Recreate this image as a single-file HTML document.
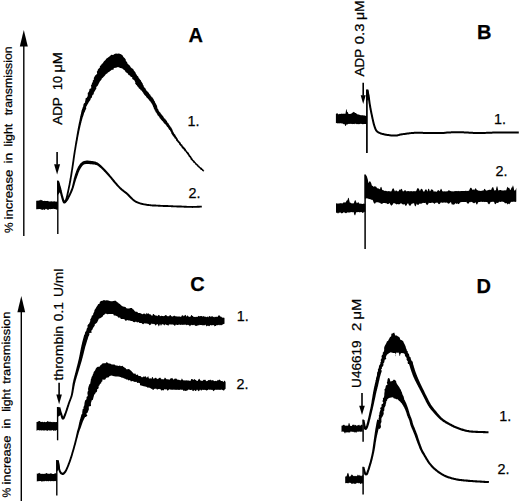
<!DOCTYPE html>
<html><head><meta charset="utf-8"><style>
html,body{margin:0;padding:0;background:#fff;}
svg{display:block;}
text{font-family:"Liberation Sans",sans-serif;fill:#000;stroke:#000;stroke-width:0.25px;}
</style></head><body>
<svg width="520" height="502" viewBox="0 0 520 502">
<rect width="520" height="502" fill="#fff"/>
<line x1="23.8" y1="46.0" x2="23.8" y2="236" stroke="#000" stroke-width="1.4"/>
<polygon points="23.8,30 19.8,46.5 27.8,46.5" fill="#000"/>
<text transform="translate(12.70,233.1) rotate(-90.275) scale(1.042,1)" font-size="11.5">%</text>
<text transform="translate(12.64,219.5) rotate(-90.275) scale(1.147,1)" font-size="11.5">increase</text>
<text transform="translate(12.37,163.6) rotate(-90.275) scale(1.198,1)" font-size="11.5">in</text>
<text transform="translate(12.28,146.4) rotate(-90.275) scale(1.076,1)" font-size="11.5">light</text>
<text transform="translate(12.13,115.3) rotate(-90.275) scale(1.069,1)" font-size="11.5">transmission</text>
<text transform="translate(61.60,124.8) rotate(-90.000) scale(1.120,1)" font-size="12">ADP</text>
<text transform="translate(61.60,89.9) rotate(-90.000) scale(1.036,1)" font-size="12">10</text>
<text transform="translate(61.60,72.6) rotate(-90.000) scale(1.217,1)" font-size="12">μM</text>
<line x1="57.1" y1="152" x2="57.1" y2="164.7" stroke="#000" stroke-width="1.6"/>
<polygon points="54.1,164.2 60.1,164.2 57.1,174.5" fill="#000"/>
<line x1="57.8" y1="180.5" x2="57.8" y2="234" stroke="#000" stroke-width="1.4"/>
<path d="M36.2,200.7 L37.2,200.7 L38.2,200.6 L39,200.7 L39.2,200.6 L39.4,200.6 L39.6,200.2 L40,199.9 L40.2,199.9 L40.2,199.6 L40.5,199.7 L40.6,200.2 L40.7,200.4 L40.9,200.3 L40.9,200.2 L41,200.2 L41.1,200.2 L41.2,200.5 L41.2,200.3 L41.3,200.1 L41.5,200.2 L41.6,199.8 L41.8,200 L41.9,200.3 L42.1,200.3 L42.2,200.3 L42.2,200.2 L42.4,200.6 L42.5,200.9 L42.8,200.5 L43.1,201 L43.2,201 L43.4,201.1 L43.5,201 L43.7,201 L43.8,200.9 L44.1,200.9 L44.2,200.8 L44.4,200.6 L44.7,201.1 L45,200.9 L45.2,200.7 L45.3,200.9 L45.6,200.9 L46.2,200.9 L46.7,200.9 L47,201.1 L47.2,201.1 L47.3,201.1 L47.6,201.1 L47.9,200.8 L48.2,201 L48.2,200.9 L48.5,201.2 L48.8,201.4 L49.1,201.4 L49.2,201.4 L50.2,201.5 L51.2,201.2 L52.2,201.6 L53.2,201.6 L54.2,201.3 L55.2,201.4 L55.3,201.4 L55.6,201.8 L55.9,201.6 L56.2,201.5 L56.2,201.8 L56.5,201.7 L56.8,201.5 L57.1,201.6 L57.2,201.8 L57.4,201.6 L57.8,201.7 L57.8,208.8 L57.4,209.1 L57.2,209.5 L57.1,209.7 L56.8,209.5 L56.5,209.5 L56.2,209.4 L56.2,209.9 L55.9,209.7 L55.6,209.1 L55.3,209 L55.2,208.9 L54.2,209.1 L53.2,208.8 L52.2,208.9 L51.2,209 L50.2,209.2 L49.2,209 L49.1,209.1 L48.8,209.4 L48.5,209.6 L48.2,209.9 L48.2,210 L47.9,210 L47.6,209.5 L47.3,209.5 L47.2,209.7 L47,209.5 L46.7,208.8 L46.2,209.3 L45.6,208.8 L45.3,209.2 L45.2,209.4 L45,209.7 L44.7,210 L44.4,209.7 L44.2,210 L44.1,209.6 L43.8,209.8 L43.7,209.7 L43.5,209.2 L43.4,209.1 L43.2,209.5 L43.1,209.4 L42.8,209.7 L42.5,209.7 L42.4,209.9 L42.2,209.6 L42.2,209.8 L42.1,210 L41.9,210 L41.8,209.6 L41.6,209.7 L41.5,209.7 L41.3,209.6 L41.2,209.3 L41.2,209.6 L41.1,209.2 L41,209 L40.9,209 L40.9,209.4 L40.7,209.2 L40.6,209 L40.5,209.2 L40.2,209.4 L40.2,208.9 L40,209 L39.6,209.1 L39.4,209.1 L39.2,208.9 L39,209.2 L38.2,209.1 L37.2,209.2 L36.2,209.3 Z" fill="#000"/>
<polygon points="57.2,181 58.8,181 61.2,190.5 57.2,196" fill="#000"/>
<path d="M57.3,181.7 L57.4,182.1 L57.5,182.6 L57.7,183.2 L57.8,183.9 L58,184.6 L58.2,185.4 L58.4,186.2 L58.6,187 L58.8,187.8 L59,188.5 L59.1,189.3 L59.3,189.9 L59.5,190.6 L59.6,191.3 L59.8,192 L60,192.7 L60.1,193.4 L60.3,194.1 L60.5,194.8 L60.6,195.5 L60.8,196.1 L61,196.7 L61.1,197.3 L61.4,198.2 L61.6,199 L61.9,199.9 L62.1,200.7 L62.4,201.5 L62.6,202.1 L63,202.7 L63.7,203.4 L65,203.5 L65.9,202.8 L66.4,201.9 L66.8,201 L67.1,199.8 L67.3,199.3 L67.4,198.8 L67.6,198.2 L67.7,197.6 L67.9,197 L68,196.3 L68.2,195.6 L68.3,194.9 L68.5,194.2 L68.6,193.4 L68.8,192.7 L68.9,191.9 L69.1,191.2 L69.2,190.6 L69.3,189.9 L69.5,189.3 L69.6,188.7 L69.7,188 L69.9,187.3 L70,186.6 L70.2,186 L70.3,185.3 L70.5,184.6 L70.6,183.8 L70.7,183.1 L70.9,182.4 L71,181.7 L71.2,180.9 L71.3,180.2 L71.4,179.5 L71.5,178.9 L71.6,178.2 L71.7,177.6 L71.8,176.9 L72,176.3 L72.1,175.6 L72.2,174.9 L72.3,174.2 L72.4,173.5 L72.5,172.9 L72.6,172.2 L72.7,171.5 L72.8,170.8 L72.9,170 L73.1,169.3 L73.2,168.6 L73.3,167.9 L73.4,167.1 L73.5,166.5 L73.6,165.8 L73.7,165.2 L73.8,164.5 L73.9,163.8 L74,163.1 L74.1,162.4 L74.2,161.7 L74.3,161 L74.4,160.2 L74.5,159.5 L74.6,158.8 L74.7,158.1 L74.8,157.4 L74.9,156.7 L75,156 L75.1,155.3 L75.2,154.7 L75.3,154 L75.4,153.4 L75.5,152.7 L75.6,152.1 L75.7,151.4 L75.8,150.6 L75.9,149.9 L76.1,149.3 L76.2,148.6 L76.3,147.9 L76.4,147.3 L76.5,146.7 L76.6,146 L76.7,145.4 L76.8,144.8 L76.9,144.2 L77.1,143.5 L77.2,142.9 L77.3,142.2 L77.4,141.6 L77.5,140.9 L77.7,140.2 L77.8,139.5 L77.9,138.9 L78,138.2 L78.1,137.5 L78.3,136.8 L78.4,136.1 L78.5,135.4 L78.7,134.8 L78.8,134.1 L78.9,133.4 L79.1,132.7 L79.2,132 L79.3,131.3 L79.5,130.6 L79.6,129.9 L79.8,129.2 L79.9,128.5 L80.1,127.9 L80.2,127.2 L80.4,126.5 L80.5,125.8 L80.7,125.2 L80.9,124.5 L81,123.8 L81.2,123.1 L81.4,122.4 L81.5,121.7 L81.7,121.1 L81.9,120.4 L82.1,119.8 L82.2,119.1 L82.4,118.5 L82.6,117.9 L82.7,117.3 L82.9,116.7 L83.1,116.1 L83.3,115.3 L83.5,114.5 L83.8,113.7 L84.1,112.9 L84.3,112.2 L84.6,111.4 L84.9,110.7 L85.1,110 L85.3,109.4 L85.5,108.8 L85.7,108.3 L85.9,107.9 L86,107.5 L83,106.5 L82.9,106.9 L82.7,107.3 L82.6,107.9 L82.4,108.5 L82.2,109.1 L82,109.8 L81.8,110.5 L81.6,111.3 L81.4,112.1 L81.2,112.9 L81,113.8 L80.7,114.6 L80.5,115.5 L80.4,116 L80.3,116.6 L80.1,117.3 L80,117.9 L79.8,118.5 L79.7,119.2 L79.6,119.9 L79.4,120.5 L79.3,121.2 L79.1,121.9 L79,122.6 L78.8,123.3 L78.7,124 L78.5,124.7 L78.4,125.4 L78.3,126.1 L78.1,126.7 L78,127.4 L77.9,128.1 L77.7,128.8 L77.6,129.5 L77.5,130.2 L77.3,130.9 L77.2,131.6 L77.1,132.3 L77,133 L76.8,133.7 L76.7,134.4 L76.6,135.1 L76.5,135.8 L76.4,136.5 L76.2,137.2 L76.1,137.9 L76,138.5 L75.9,139.2 L75.8,139.9 L75.7,140.5 L75.5,141.2 L75.4,141.9 L75.3,142.6 L75.2,143.2 L75.1,143.8 L75,144.5 L74.9,145.1 L74.8,145.7 L74.7,146.4 L74.6,147 L74.5,147.6 L74.4,148.3 L74.3,149 L74.2,149.7 L74,150.4 L73.9,151.1 L73.8,151.9 L73.7,152.5 L73.6,153.1 L73.5,153.7 L73.4,154.4 L73.3,155.1 L73.2,155.7 L73.1,156.4 L73,157.1 L72.9,157.8 L72.8,158.6 L72.7,159.3 L72.6,160 L72.5,160.7 L72.4,161.4 L72.3,162.1 L72.2,162.8 L72.1,163.5 L72,164.2 L71.9,164.9 L71.8,165.6 L71.7,166.2 L71.6,166.9 L71.5,167.6 L71.4,168.3 L71.3,169 L71.2,169.8 L71.1,170.5 L70.9,171.2 L70.8,171.9 L70.7,172.6 L70.6,173.3 L70.5,173.9 L70.4,174.6 L70.3,175.3 L70.2,176 L70.1,176.6 L70,177.3 L69.8,177.9 L69.7,178.6 L69.6,179.2 L69.5,179.8 L69.4,180.6 L69.2,181.3 L69.1,182.1 L69,182.8 L68.8,183.5 L68.7,184.2 L68.6,184.9 L68.4,185.6 L68.3,186.3 L68.1,187 L68,187.6 L67.9,188.3 L67.7,188.9 L67.6,189.6 L67.5,190.2 L67.3,190.8 L67.2,191.6 L67,192.3 L66.8,193.1 L66.7,193.8 L66.5,194.5 L66.4,195.2 L66.2,195.9 L66,196.5 L65.9,197.2 L65.7,197.7 L65.6,198.3 L65.4,198.7 L65.3,199.2 L64.8,200.2 L64.4,200.9 L64.1,201.3 L64.2,201.2 L64.7,201.2 L64.9,201.3 L64.8,201.1 L64.5,200.6 L64.3,200 L64,199.2 L63.8,198.4 L63.5,197.5 L63.3,196.7 L63.1,196.1 L62.9,195.5 L62.8,194.9 L62.6,194.3 L62.4,193.6 L62.3,192.9 L62.1,192.2 L61.9,191.5 L61.8,190.8 L61.6,190.1 L61.4,189.4 L61.3,188.7 L61.1,188 L60.8,187.2 L60.6,186.4 L60.4,185.7 L60.2,184.9 L59.9,184.1 L59.7,183.4 L59.5,182.7 L59.3,182.2 L59.2,181.7 L59.1,181.3 Z" fill="#000"/>
<path d="M80.3,117 L81.1,115.9 L81.1,114.6 L81.2,113.3 L81.8,112.1 L81.7,110.8 L82,109.6 L83.3,108.6 L83.2,107.3 L83.3,106 L83.4,104.7 L83.9,103.5 L85.1,102.6 L85.1,101.2 L85.5,100 L85.5,98.6 L86.7,97.7 L87.4,96.7 L87.8,95.5 L87.8,94.2 L87.7,92.9 L88.7,92 L89.3,90.6 L89.5,89.1 L91.2,88.2 L91.2,86.6 L91,85.3 L91.9,84.3 L91.9,83 L92.9,82.1 L92.7,80.7 L93.9,79.6 L93.8,78 L94.5,76.7 L95.2,75.4 L96.4,74.5 L97.2,73.5 L96.8,71.8 L97.6,70.7 L97.9,69.4 L98.8,68.4 L99.9,67.5 L99.9,65.9 L101.1,65.2 L101.7,64 L102.8,63.2 L103.5,62.1 L104.3,60.9 L105.5,60.1 L106.2,58.8 L107.4,58 L108.7,57 L110.1,56.1 L111.2,54.7 L113.1,54.9 L114.5,54 L116,53.6 L117.3,53.8 L118.5,53.4 L119.8,53.7 L121,54.3 L122.7,55.6 L123.4,57.1 L124.8,58.3 L125.7,59.4 L125.9,60.9 L127,62.1 L127.6,63.7 L128.8,64.7 L129.9,65.8 L130.7,67.2 L131.8,68.2 L133.2,69.1 L133.7,70.3 L134.5,71.3 L135.4,72.3 L135.8,73.6 L136.5,74.6 L137.2,75.7 L138.2,76.6 L138.7,77.9 L139.7,78.9 L140.2,80.2 L141.1,81.3 L141.8,82.5 L142.7,83.5 L142.7,85 L143.5,86.1 L137.5,86.1 L136.3,84.4 L135.8,83.2 L135,82 L134.7,80.7 L133.6,79.8 L132.3,79.1 L132.2,77.2 L130.7,76.7 L129.9,75.5 L128.5,74.9 L127.8,73.6 L126.7,72.7 L125.6,71.9 L124.9,70.6 L123.7,69.8 L122.7,68.8 L121.6,68.2 L120.4,67.9 L119.2,67.6 L118,66.9 L116,67.7 L113.9,68.1 L113.4,69.8 L111.8,69.7 L110.6,70.8 L109.3,71.7 L107.9,72.4 L107.2,73.4 L106,73.9 L105.3,75 L104.5,76 L103.7,76.8 L102.8,77.7 L101.8,78.4 L101.4,79.7 L100.7,80.6 L99.8,81.6 L99.2,82.8 L98.5,83.9 L98,85.2 L97.2,86.2 L96.2,87 L96.4,88.6 L95.7,89.6 L95,90.7 L94.4,91.7 L93.8,92.8 L93.7,94.2 L92.5,95 L92.1,96.2 L91.9,97.6 L90.7,98.5 L90.4,99.9 L89.6,101 L88.7,102.2 L88.1,103.5 L87.3,104.7 L86.7,106 L86,107.1 L86.3,108.6 L85.5,109.7 L85.1,110.9 L84.5,112.1 L83.8,113.2 L83.4,114.5 L83.2,115.8 L83,117.1 Z" fill="#000"/>
<path d="M135.1,83.2 L135.1,83.6 L135.7,83.9 L135.9,84.6 L136.5,85.1 L137.2,85.6 L137.5,86.4 L137.9,87 L138.6,87.4 L138.8,88.2 L139.3,88.7 L140.1,89 L140.4,89.7 L140.7,90.3 L141.5,90.6 L142,91.2 L142.3,91.8 L142.7,92.3 L143.2,92.8 L143.4,93.6 L143.9,94.1 L144.3,94.8 L144.8,95.3 L145.3,95.8 L146,96.2 L146.2,97 L146.6,97.6 L147.3,98 L147.8,98.6 L148.1,99.3 L148.9,99.5 L149.1,100.2 L149.6,100.7 L149.9,101.2 L150.5,101.6 L150.7,102.3 L151.2,102.7 L151.5,103.3 L151.9,103.9 L152.2,104.5 L152.7,105 L152.7,105.7 L153,106.3 L153.2,106.9 L153.7,107.4 L153.7,108.2 L154,108.8 L154.5,109.4 L154.6,110.2 L155.3,110.7 L155.4,111.5 L155.7,112.2 L156.4,112.7 L156.7,113.4 L157.2,113.9 L157.3,114.8 L157.8,115.4 L158.5,115.9 L158.8,116.6 L159.4,117 L159.5,117.8 L160,118.4 L160.6,118.8 L160.9,119.5 L161.5,119.9 L161.8,120.5 L162.3,121 L163,121.4 L163.2,122.1 L163.7,122.7 L164.3,123.2 L164.6,123.9 L165.3,124.2 L165.8,124.7 L166.2,125.2 L166.4,125.8 L166.9,126.4 L167.3,126.9 L167.8,127.2 L168.1,127.8 L168.4,128.3 L168.7,128.9 L169.2,129.7 L169.8,129.9 L170.1,130.4 L170.3,130.9 L170.6,131.5 L170.9,132 L171.2,132.6 L171.3,133.4 L171.8,133.9 L172,134.6 L172.6,135.2 L172.9,135.9 L173.6,136.4 L173.8,137 L174.4,137.4 L174.4,138.2 L175.1,138.6 L175.6,139.1 L176,139.7 L176.1,140.4 L176.6,141 L177.1,141.6 L177.6,142.1 L178,142.7 L178.6,143.1 L179,143.8 L179.2,144.5 L179.7,144.9 L180.2,145.4 L180.5,146.1 L181.2,146.4 L181.5,147.1 L181.7,147.8 L182.3,148.2 L182.7,148.7 L183.1,149.2 L183.7,149.6 L184.1,150.1 L184.3,150.7 L184.7,151.3 L185.4,151.6 L185.8,152.1 L186.1,152.7 L186.7,153.2 L186.9,153.8 L187.5,154.2 L187.6,154.9 L188.2,155.3 L188.4,155.9 L188.7,156.6 L189.3,156.9 L189.7,157.5 L190.1,158.1 L190.5,158.7 L190.6,159.4 L191.3,159.9 L191.8,160.4 L192.2,161 L192.8,161.6 L193.3,162.1 L193.5,162.9 L194.3,163.1 L194.8,163.6 L195.1,164.4 L195.9,164.7 L196.4,165.3 L196.9,166 L197.5,166.5 L198,167.2 L198.6,167.6 L199.3,168 L199.8,168.7 L200.3,169.3 L200.7,169.8 L201.5,169.9 L202,170.3 L202.2,171 L202.8,171.1 L202.9,171.6 L203.2,171.8 L204.3,170.6 L204.1,170.3 L203.6,170.2 L203.4,169.6 L203.1,169.2 L202.5,168.9 L202.1,168.3 L201.6,167.8 L200.8,167.6 L200.3,167 L199.6,166.6 L199.3,165.7 L198.5,165.4 L198.1,164.6 L197.4,164.3 L196.9,163.6 L196.2,163.2 L195.8,162.6 L195.3,162.1 L194.9,161.5 L194.6,161 L194.1,160.4 L193.4,160.1 L192.9,159.5 L192.7,158.8 L192.2,158.3 L191.8,157.8 L191.5,157.1 L191.1,156.6 L190.8,155.9 L190.2,155.5 L189.8,155 L189.6,154.3 L189.1,153.9 L189,153.1 L188.4,152.7 L188.2,152 L187.4,151.7 L187,151.2 L186.6,150.6 L186.1,150.1 L186,149.3 L185.5,148.9 L185.2,148.3 L184.7,147.9 L184.3,147.3 L183.8,146.9 L183.4,146.4 L183,145.9 L182.5,145.4 L182.3,144.7 L181.6,144.3 L181.1,143.9 L180.9,143.2 L180.5,142.6 L180,142.1 L179.5,141.6 L179.1,141 L178.7,140.4 L178.1,139.9 L177.9,139.2 L177.6,138.5 L176.9,138.1 L176.9,137.3 L176.3,136.9 L176.1,136.2 L175.7,135.8 L175.4,135.2 L175.1,134.5 L174.5,134 L174,133.5 L173.9,132.7 L173.4,132.2 L173.1,131.6 L172.7,131 L172.7,130.3 L172.4,129.7 L172.2,129.2 L171.8,128.7 L171.6,128.1 L171.2,127.4 L170.5,126.9 L170.4,126.2 L169.9,125.8 L169.5,125.3 L169.2,124.7 L168.7,124.1 L168.6,123.4 L168.1,122.9 L167.5,122.5 L167.1,121.9 L167,121 L166.3,120.6 L166,119.9 L165.5,119.4 L165.2,118.7 L164.4,118.4 L164,117.8 L163.6,117.2 L163.3,116.6 L162.8,116.1 L162.5,115.5 L161.8,115.1 L161.6,114.5 L161.3,113.9 L160.7,113.4 L160.5,112.7 L159.8,112.3 L159.3,111.7 L159,111.1 L158.5,110.5 L158.4,109.8 L158.2,109.2 L157.6,108.7 L157.4,108.1 L157.3,107.5 L157.1,106.8 L157.1,106.1 L156.8,105.4 L156.4,104.8 L156,104.1 L155.9,103.4 L155.2,102.9 L155.1,102.1 L155,101.4 L154.3,100.9 L154.1,100.2 L153.7,99.5 L153.3,98.8 L152.8,98.2 L152.6,97.5 L151.8,97.2 L151.4,96.5 L150.9,95.9 L150.4,95.3 L150.2,94.6 L149.5,94.3 L149.2,93.7 L148.8,93 L148.4,92.5 L148,91.8 L147.3,91.5 L146.9,90.9 L146.4,90.4 L146.1,89.7 L145.7,89.2 L145.5,88.5 L145,87.9 L144.4,87.4 L144,86.9 L143.7,86.3 L143.5,85.7 L143.2,85 L142.5,84.6 L142.3,84 L141.9,83.4 L141.7,82.6 L141.2,82 L141,81.2 L140.8,80.5 L140.5,80.1 L140.3,79.7 Z" fill="#000"/>
<path d="M64.8,203.1 L65.1,202.9 L65.6,202.6 L66.2,202.2 L66.9,201.6 L67.6,200.8 L68,200.3 L68.3,199.7 L68.7,199 L69.1,198.3 L69.4,197.6 L69.8,196.9 L70.1,196.2 L70.5,195.4 L70.8,194.8 L71.1,194.2 L71.4,193.6 L71.7,192.9 L72,192.2 L72.3,191.6 L72.6,190.9 L72.8,190.2 L73.1,189.5 L73.3,188.8 L73.6,188.2 L73.8,187.5 L74,186.8 L74.2,186.1 L74.4,185.4 L74.6,184.7 L74.8,184.1 L74.9,183.4 L75.1,182.8 L75.3,182.3 L75.5,181.6 L75.7,181 L75.8,180.4 L76,179.9 L76.2,179.3 L76.4,178.7 L76.7,177.9 L76.9,177.4 L77.1,176.8 L77.4,176.1 L77.6,175.4 L77.9,174.7 L78.1,174 L78.4,173.3 L78.6,172.6 L78.9,171.9 L79.2,171.3 L79.4,170.7 L79.7,170.1 L80.1,169.4 L80.4,168.8 L80.8,168.2 L81.2,167.6 L81.6,167 L81.9,166.5 L82.3,166.1 L82.7,165.6 L83,165.3 L83.6,164.8 L84,164.5 L84.5,164.3 L85.1,164.2 L85.7,164 L86.2,164 L86.7,163.9 L87.3,164 L87.9,164 L88.6,164.1 L89.3,164.1 L90,164.2 L90.7,164.2 L91.4,164.3 L92.1,164.3 L92.7,164.4 L93.4,164.4 L94,164.5 L94.6,164.6 L95.1,164.7 L95.8,164.9 L96.4,165.1 L96.9,165.3 L97.5,165.6 L98.1,166 L98.8,166.5 L99.3,166.9 L99.7,167.2 L100.2,167.7 L100.7,168.1 L101.2,168.6 L101.7,169.1 L102.2,169.6 L102.7,170.1 L103.2,170.6 L103.7,171.1 L104.2,171.7 L104.7,172.1 L105.1,172.6 L105.6,173.1 L106,173.6 L106.5,174 L106.9,174.5 L107.4,175 L107.8,175.5 L108.3,176 L108.7,176.6 L109.2,177.1 L109.6,177.6 L110.1,178.1 L110.5,178.6 L111,179.2 L111.4,179.7 L111.9,180.3 L112.3,180.8 L112.8,181.4 L113.2,181.9 L113.7,182.5 L114.1,183 L114.6,183.5 L115,184.1 L115.5,184.6 L116,185.2 L116.5,185.7 L117,186.2 L117.5,186.8 L118,187.3 L118.5,187.8 L118.9,188.3 L119.4,188.8 L119.9,189.3 L120.4,189.7 L121,190.2 L121.6,190.7 L122.1,191.2 L122.7,191.6 L123.3,192.1 L123.8,192.5 L124.4,192.9 L124.9,193.3 L125.4,193.7 L125.8,194.1 L126.4,194.5 L126.9,195 L127.4,195.5 L127.9,196 L128.3,196.5 L128.8,197 L129.3,197.4 L129.8,197.9 L130.3,198.4 L130.8,198.9 L131.2,199.3 L131.7,199.8 L132.2,200.3 L132.8,200.8 L133.4,201.3 L134.1,201.7 L134.6,202.1 L135.2,202.4 L135.8,202.7 L136.4,203 L137,203.3 L137.6,203.5 L138.3,203.8 L139,204.1 L139.8,204.3 L140.5,204.5 L141.1,204.7 L141.7,204.8 L142.3,205 L143,205.1 L143.6,205.2 L144.3,205.3 L145,205.5 L145.6,205.6 L146.3,205.7 L147,205.8 L147.7,205.9 L148.5,206 L149.2,206.1 L149.9,206.1 L150.5,206.2 L151.2,206.3 L151.8,206.3 L152.4,206.4 L153,206.4 L153.7,206.4 L154.3,206.5 L155,206.5 L155.6,206.5 L156.3,206.6 L157,206.6 L157.7,206.6 L158.4,206.7 L159.2,206.7 L160,206.7 L160.8,206.7 L161.3,206.8 L161.9,206.8 L162.5,206.8 L163.2,206.9 L163.8,206.9 L164.5,206.9 L165.1,206.9 L165.8,207 L166.5,207 L167.1,207 L167.8,207 L168.5,207.1 L169.2,207.1 L169.9,207.1 L170.6,207.1 L171.3,207.2 L172,207.2 L172.7,207.2 L173.4,207.3 L174.1,207.3 L174.8,207.3 L175.5,207.3 L176.2,207.3 L176.9,207.4 L177.6,207.4 L178.3,207.4 L179,207.5 L179.7,207.5 L180.5,207.5 L181.2,207.5 L181.9,207.6 L182.7,207.6 L183.4,207.6 L184.1,207.7 L184.9,207.7 L185.6,207.7 L186.3,207.7 L187,207.8 L187.7,207.8 L188.3,207.8 L189,207.8 L189.6,207.8 L190.3,207.8 L190.9,207.8 L191.5,207.8 L192.4,207.9 L193.2,207.8 L194.1,207.8 L194.9,207.8 L195.7,207.8 L196.5,207.8 L197.3,207.7 L198,207.7 L198.7,207.7 L199.4,207.7 L200,207.6 L200.5,207.6 L201,207.6 L201.5,207.6 L201.8,207.5 L201.8,205.7 L201.4,205.7 L200.9,205.7 L200.4,205.7 L199.9,205.7 L199.3,205.8 L198.6,205.8 L197.9,205.8 L197.2,205.8 L196.4,205.9 L195.7,205.9 L194.9,205.9 L194,205.9 L193.2,205.9 L192.4,206 L191.5,206 L190.9,205.9 L190.3,205.9 L189.7,205.9 L189,205.9 L188.4,205.9 L187.7,205.9 L187,205.9 L186.3,205.8 L185.6,205.8 L184.9,205.8 L184.2,205.8 L183.5,205.7 L182.8,205.7 L182,205.7 L181.3,205.6 L180.6,205.6 L179.8,205.6 L179.1,205.6 L178.4,205.5 L177.6,205.5 L176.9,205.5 L176.2,205.5 L175.6,205.4 L174.9,205.4 L174.2,205.4 L173.5,205.4 L172.8,205.3 L172.1,205.3 L171.4,205.3 L170.7,205.2 L170,205.2 L169.3,205.2 L168.6,205.2 L167.9,205.1 L167.2,205.1 L166.5,205.1 L165.9,205.1 L165.2,205 L164.5,205 L163.9,205 L163.2,205 L162.6,204.9 L162,204.9 L161.4,204.9 L160.8,204.9 L160,204.8 L159.3,204.8 L158.5,204.8 L157.8,204.7 L157.1,204.7 L156.4,204.7 L155.7,204.6 L155.1,204.6 L154.4,204.6 L153.8,204.5 L153.2,204.5 L152.5,204.5 L151.9,204.4 L151.3,204.4 L150.7,204.3 L150.1,204.3 L149.4,204.2 L148.7,204.1 L148,204 L147.3,203.9 L146.6,203.8 L145.9,203.7 L145.3,203.6 L144.6,203.5 L144,203.4 L143.4,203.2 L142.7,203.1 L142.2,203 L141.6,202.8 L141.1,202.7 L140.3,202.5 L139.6,202.2 L139,202 L138.4,201.8 L137.8,201.5 L137.2,201.2 L136.7,200.9 L136.1,200.7 L135.6,200.4 L135.1,200.1 L134.6,199.7 L134.1,199.3 L133.6,198.9 L133.1,198.4 L132.7,197.9 L132.2,197.5 L131.7,197 L131.2,196.5 L130.7,196 L130.2,195.5 L129.8,195.1 L129.3,194.6 L128.8,194.1 L128.3,193.6 L127.7,193.1 L127.2,192.5 L126.7,192.1 L126.1,191.7 L125.6,191.3 L125,190.9 L124.5,190.5 L123.9,190 L123.4,189.6 L122.8,189.2 L122.3,188.7 L121.8,188.3 L121.3,187.8 L120.8,187.4 L120.4,186.9 L119.9,186.4 L119.4,185.9 L118.9,185.4 L118.5,184.9 L118,184.4 L117.5,183.8 L117,183.3 L116.6,182.7 L116.1,182.2 L115.7,181.7 L115.2,181.2 L114.8,180.6 L114.3,180.1 L113.9,179.5 L113.5,179 L113,178.4 L112.6,177.9 L112.1,177.3 L111.6,176.8 L111.2,176.2 L110.7,175.7 L110.3,175.2 L109.8,174.6 L109.4,174.1 L108.9,173.6 L108.5,173.1 L108,172.6 L107.6,172.1 L107.1,171.6 L106.7,171.1 L106.2,170.6 L105.8,170.1 L105.3,169.6 L104.8,169.1 L104.3,168.5 L103.8,168 L103.3,167.5 L102.8,167 L102.3,166.5 L101.8,166 L101.3,165.5 L100.8,165.1 L100.4,164.7 L99.6,164 L98.9,163.5 L98.3,163 L97.6,162.6 L96.9,162.2 L96.1,161.9 L95.4,161.6 L94.6,161.4 L93.9,161.3 L93.2,161.2 L92.4,161 L91.7,161 L91,160.9 L90.4,160.8 L89.6,160.7 L88.9,160.7 L88.1,160.6 L87.4,160.6 L86.6,160.6 L85.8,160.7 L85.1,160.8 L84.2,161 L83.3,161.3 L82.4,161.8 L81.6,162.4 L80.8,163.1 L80.4,163.6 L79.9,164.1 L79.5,164.7 L79.1,165.3 L78.7,166 L78.2,166.6 L77.8,167.4 L77.5,168.1 L77.1,168.9 L76.8,169.5 L76.5,170.2 L76.3,170.9 L76,171.6 L75.8,172.4 L75.5,173.1 L75.3,173.8 L75,174.6 L74.8,175.3 L74.6,175.9 L74.4,176.5 L74.3,177.1 L74,177.9 L73.8,178.6 L73.7,179.2 L73.6,179.8 L73.4,180.4 L73.3,181 L73.1,181.7 L73,182.3 L72.8,182.9 L72.7,183.5 L72.5,184.2 L72.4,184.9 L72.2,185.5 L72,186.2 L71.9,186.9 L71.7,187.5 L71.5,188.2 L71.2,188.8 L71,189.5 L70.7,190.1 L70.4,190.8 L70.2,191.4 L69.9,192.1 L69.6,192.7 L69.3,193.4 L69,194 L68.7,194.6 L68.3,195.3 L68,196 L67.6,196.7 L67.3,197.4 L67,198.1 L66.6,198.6 L66.3,199.2 L66,199.6 L65.5,200.1 L65,200.6 L64.5,200.9 L64,201.2 L63.6,201.5 Z" fill="#000"/>
<text x="188.5" y="42.3" font-size="20" font-weight="bold">A</text>
<text x="187.6" y="126.2" font-size="14.4">1.</text>
<text x="188.5" y="198.4" font-size="14.4">2.</text>
<text transform="translate(364.10,76.5) rotate(-90.000) scale(1.124,1)" font-size="12">ADP</text>
<text transform="translate(364.10,44.2) rotate(-90.000) scale(1.237,1)" font-size="12">0.3</text>
<text transform="translate(364.10,20.1) rotate(-90.000) scale(1.171,1)" font-size="12">μM</text>
<line x1="363.2" y1="82.7" x2="363.2" y2="95.8" stroke="#000" stroke-width="1.6"/>
<polygon points="360.7,95.3 365.7,95.3 363.2,104" fill="#000"/>
<line x1="366.9" y1="89.7" x2="366.9" y2="153" stroke="#000" stroke-width="1.7"/>
<path d="M335.9,114 L336.2,113.9 L336.5,113.6 L336.8,113.2 L336.9,113.1 L337.1,113.3 L337.4,113.6 L337.7,113.6 L337.9,113.5 L338,114 L338.3,114.2 L338.9,114.3 L339.9,113.8 L340.9,114.1 L341.9,113.6 L342.8,113.9 L342.9,113.7 L343.1,113.6 L343.4,114 L343.7,113.6 L343.9,113.8 L344,114 L344.3,113.6 L344.5,113.6 L344.6,114 L344.8,113.8 L344.9,113.9 L344.9,113.5 L345.1,113.7 L345.4,113.6 L345.5,113.9 L345.7,112.3 L345.8,112.1 L345.9,110.8 L346,110.7 L346,110.2 L346.1,109.8 L346.3,109.5 L346.3,109.1 L346.4,109 L346.6,109.6 L346.6,109.5 L346.7,109.7 L346.9,111.3 L346.9,110.9 L347,111.5 L347.2,111.9 L347.3,112.1 L347.5,112.3 L347.6,112 L347.8,112.3 L347.9,112.3 L348.1,112.9 L348.2,113.3 L348.4,113.6 L348.5,113.9 L348.9,114 L349.9,114 L350.9,113.7 L351.9,113.3 L352.1,113.1 L352.4,113.1 L352.7,112.5 L352.9,112.1 L353,112.2 L353.3,112.3 L353.6,111.7 L353.9,112.1 L354.2,112.1 L354.5,112.4 L354.8,112.4 L354.9,112.9 L355.9,113 L356.9,114 L357.9,114.5 L358.9,114.5 L359.9,115.1 L360.9,115.2 L361.9,115.2 L362.9,115.3 L363.9,115.4 L364.9,115.5 L365.9,115.9 L366.9,115.8 L367,116.1 L367,124.2 L366.9,124 L365.9,123.9 L364.9,124 L363.9,124.1 L362.9,124.2 L361.9,124.1 L360.9,123.7 L359.9,124.1 L358.9,124.3 L357.9,124.1 L356.9,124.2 L355.9,123.7 L354.9,123.8 L354.8,123.8 L354.5,123.9 L354.2,124.2 L353.9,124 L353.6,123.9 L353.3,124 L353,123.8 L352.9,124.2 L352.7,123.7 L352.4,124.3 L352.1,123.9 L351.9,123.9 L350.9,123.7 L349.9,124.1 L348.9,123.8 L348.5,124 L348.4,123.9 L348.2,124.1 L348.1,123.9 L347.9,124.4 L347.8,124.6 L347.6,124.3 L347.5,124.3 L347.3,124.6 L347.2,124.2 L347,124.4 L346.9,124.7 L346.9,124.3 L346.7,124.4 L346.6,124.5 L346.6,124.3 L346.4,124.5 L346.3,125.1 L346.3,124.7 L346.1,125.2 L346,125.6 L346,125.6 L345.9,125.5 L345.8,126 L345.7,126 L345.5,125.9 L345.4,126 L345.1,125.6 L344.9,125.2 L344.9,124.7 L344.8,124.6 L344.6,124 L344.5,124.2 L344.3,124.3 L344,124.2 L343.9,124.2 L343.7,124.2 L343.4,124 L343.1,123.8 L342.9,123.8 L342.8,123.4 L341.9,123.6 L340.9,123.3 L339.9,123.2 L338.9,123.4 L338.3,123.2 L338,123.1 L337.9,123.4 L337.7,123.4 L337.4,123.2 L337.1,123.2 L336.9,123 L336.8,123.1 L336.5,122.9 L336.2,123.3 L335.9,123.3 Z" fill="#000"/>
<polygon points="366.2,89.6 368.2,89.8 369.2,95 368.9,100 366.2,100.5" fill="#000"/>
<path d="M366.5,90 L366.6,90.4 L366.7,90.9 L366.8,91.4 L366.9,92.1 L367,92.8 L367.2,93.5 L367.3,94.4 L367.5,95.2 L367.6,96.2 L367.7,96.7 L367.8,97.3 L367.9,97.9 L368,98.5 L368.1,99.2 L368.1,99.9 L368.2,100.6 L368.3,101.3 L368.4,102 L368.5,102.7 L368.6,103.5 L368.8,104.2 L368.9,104.9 L369,105.7 L369.1,106.4 L369.2,107.1 L369.3,107.8 L369.5,108.5 L369.6,109.2 L369.7,109.9 L369.9,110.6 L370,111.3 L370.1,112 L370.3,112.7 L370.4,113.4 L370.6,114.1 L370.7,114.8 L370.9,115.5 L371,116.2 L371.1,116.8 L371.3,117.5 L371.4,118.1 L371.6,118.9 L371.8,119.6 L371.9,120.4 L372.1,121.1 L372.2,121.8 L372.4,122.5 L372.6,123.2 L372.7,123.9 L372.9,124.5 L373.1,125.2 L373.3,125.8 L373.5,126.4 L373.7,126.9 L373.9,127.7 L374.2,128.5 L374.5,129.2 L374.8,129.9 L375.1,130.6 L375.5,131.2 L376.1,131.8 L376.7,132.4 L377.2,132.8 L377.8,133.2 L378.4,133.5 L379,133.8 L379.7,134.1 L380.4,134.4 L381.2,134.6 L382,134.9 L382.8,135.1 L383.7,135.3 L384.3,135.4 L384.9,135.5 L385.6,135.7 L386.3,135.8 L387,135.9 L387.7,136 L388.5,136.1 L389.2,136.2 L390,136.3 L390.8,136.4 L391.5,136.4 L392.2,136.5 L393,136.5 L393.6,136.6 L394.3,136.6 L394.9,136.6 L395.8,136.6 L396.6,136.5 L397.3,136.4 L398,136.2 L398.6,136.1 L399.2,135.9 L399.8,135.8 L400.5,135.6 L401.2,135.4 L402.2,135.3 L402.7,135.2 L403.3,135.1 L403.9,135 L404.5,135 L405.1,134.9 L405.8,134.8 L406.5,134.7 L407.2,134.6 L407.9,134.5 L408.6,134.4 L409.3,134.3 L410.1,134.2 L410.8,134.1 L411.5,134.1 L412.3,134 L413,133.9 L413.7,133.9 L414.4,133.8 L415,133.8 L415.7,133.8 L416.4,133.7 L417.1,133.7 L417.8,133.7 L418.4,133.7 L419.1,133.7 L419.8,133.8 L420.5,133.8 L421.2,133.8 L421.9,133.8 L422.6,133.8 L423.2,133.9 L423.9,133.9 L424.6,133.9 L425.3,133.9 L426,134 L426.6,134 L427.3,134 L428,134 L428.7,134 L429.4,134 L430.1,134 L430.8,134 L431.4,134.1 L432.1,134.1 L432.8,134.1 L433.5,134.1 L434.2,134.1 L434.8,134.1 L435.5,134.1 L436.2,134.1 L436.8,134.1 L437.5,134.1 L438.1,134.1 L438.8,134.1 L439.4,134.1 L440,134.1 L440.8,134.1 L441.5,134 L442.2,134 L442.9,134 L443.6,133.9 L444.2,133.9 L444.9,133.8 L445.5,133.7 L446.2,133.7 L446.8,133.6 L447.5,133.6 L448.1,133.5 L448.7,133.5 L449.4,133.4 L450,133.4 L450.7,133.4 L451.3,133.3 L451.9,133.3 L452.5,133.3 L453.1,133.3 L453.7,133.2 L454.3,133.2 L454.9,133.2 L455.5,133.2 L456.1,133.2 L456.8,133.2 L457.5,133.2 L458.3,133.2 L459.1,133.2 L460,133.2 L460.5,133.2 L461.1,133.2 L461.6,133.3 L462.2,133.3 L462.8,133.3 L463.5,133.3 L464.1,133.4 L464.8,133.4 L465.4,133.4 L466.1,133.5 L466.8,133.5 L467.5,133.6 L468.2,133.6 L468.9,133.7 L469.7,133.7 L470.4,133.7 L471.1,133.8 L471.8,133.8 L472.5,133.8 L473.3,133.9 L474,133.9 L474.7,133.9 L475.4,134 L476.1,134 L476.8,134 L477.5,134 L478.2,134 L478.8,134 L479.5,134 L480.1,134 L480.8,134 L481.4,134 L482.1,134 L482.7,134 L483.3,133.9 L484,133.9 L484.6,133.9 L485.3,133.9 L485.9,133.8 L486.5,133.8 L487.2,133.8 L487.8,133.8 L488.5,133.8 L489.2,133.7 L489.9,133.7 L490.6,133.7 L491.3,133.7 L492,133.7 L492.7,133.6 L493.5,133.6 L494.2,133.6 L495,133.6 L495.6,133.6 L496.2,133.6 L496.9,133.6 L497.6,133.6 L498.3,133.6 L499,133.6 L499.7,133.6 L500.5,133.6 L501.3,133.6 L502,133.6 L502.8,133.6 L503.6,133.6 L504.4,133.6 L505.2,133.6 L506,133.6 L506.8,133.6 L507.6,133.6 L508.4,133.6 L509.2,133.6 L509.9,133.6 L510.7,133.6 L511.4,133.6 L512.2,133.6 L512.9,133.6 L513.5,133.6 L514.2,133.6 L514.8,133.6 L515.5,133.6 L516,133.6 L516.6,133.6 L517.1,133.6 L517.6,133.6 L518,133.6 L518.4,133.6 L518.8,133.6 L518.8,131.6 L518.4,131.6 L518,131.6 L517.6,131.6 L517.1,131.6 L516.6,131.6 L516,131.6 L515.5,131.6 L514.9,131.6 L514.2,131.6 L513.6,131.6 L512.9,131.6 L512.2,131.6 L511.4,131.6 L510.7,131.6 L509.9,131.6 L509.2,131.6 L508.4,131.6 L507.6,131.6 L506.8,131.6 L506,131.6 L505.2,131.6 L504.4,131.6 L503.6,131.6 L502.8,131.6 L502,131.6 L501.3,131.6 L500.5,131.6 L499.7,131.6 L499,131.6 L498.3,131.6 L497.6,131.6 L496.9,131.6 L496.2,131.6 L495.6,131.6 L495,131.6 L494.2,131.6 L493.4,131.6 L492.7,131.6 L491.9,131.7 L491.2,131.7 L490.5,131.7 L489.8,131.7 L489.1,131.7 L488.4,131.8 L487.8,131.8 L487.1,131.8 L486.5,131.8 L485.8,131.9 L485.2,131.9 L484.5,131.9 L483.9,131.9 L483.3,131.9 L482.7,132 L482,132 L481.4,132 L480.8,132 L480.1,132 L479.5,132 L478.8,132 L478.2,132 L477.5,132 L476.8,132 L476.2,132 L475.5,132 L474.8,131.9 L474.1,131.9 L473.4,131.9 L472.6,131.8 L471.9,131.8 L471.2,131.8 L470.5,131.7 L469.8,131.7 L469.1,131.7 L468.3,131.6 L467.6,131.6 L466.9,131.5 L466.2,131.5 L465.6,131.5 L464.9,131.4 L464.2,131.4 L463.6,131.3 L462.9,131.3 L462.3,131.3 L461.7,131.3 L461.1,131.2 L460.6,131.2 L460,131.2 L459.1,131.2 L458.3,131.2 L457.5,131.2 L456.8,131.2 L456.1,131.2 L455.4,131.2 L454.8,131.2 L454.2,131.2 L453.6,131.2 L453,131.3 L452.4,131.3 L451.8,131.3 L451.2,131.3 L450.6,131.4 L450,131.4 L449.3,131.4 L448.6,131.5 L448,131.5 L447.3,131.6 L446.7,131.6 L446,131.7 L445.4,131.7 L444.7,131.8 L444.1,131.9 L443.4,131.9 L442.7,132 L442.1,132 L441.4,132 L440.7,132.1 L440,132.1 L439.4,132.1 L438.7,132.1 L438.1,132.1 L437.5,132.1 L436.8,132.1 L436.2,132.1 L435.5,132.1 L434.9,132.1 L434.2,132.1 L433.5,132.1 L432.8,132.1 L432.2,132.1 L431.5,132.1 L430.8,132 L430.1,132 L429.4,132 L428.7,132 L428,132 L427.4,132 L426.7,132 L426,132 L425.4,131.9 L424.7,131.9 L424,131.9 L423.3,131.9 L422.6,131.8 L421.9,131.8 L421.2,131.8 L420.6,131.8 L419.9,131.8 L419.2,131.7 L418.5,131.7 L417.8,131.7 L417.1,131.7 L416.3,131.8 L415.6,131.8 L415,131.8 L414.2,131.8 L413.5,131.9 L412.8,131.9 L412.1,132 L411.3,132.1 L410.6,132.2 L409.8,132.2 L409.1,132.3 L408.4,132.4 L407.6,132.5 L406.9,132.6 L406.2,132.7 L405.5,132.8 L404.9,132.9 L404.2,133 L403.6,133.1 L403,133.2 L402.4,133.2 L401.8,133.3 L400.9,133.5 L400,133.6 L399.3,133.8 L398.7,134 L398.1,134.2 L397.5,134.3 L396.9,134.4 L396.4,134.5 L395.7,134.6 L394.9,134.6 L394.3,134.6 L393.7,134.6 L393.1,134.5 L392.4,134.5 L391.7,134.4 L391,134.4 L390.2,134.3 L389.5,134.2 L388.7,134.1 L388,134 L387.3,133.9 L386.6,133.8 L385.9,133.7 L385.3,133.6 L384.7,133.4 L384.1,133.3 L383.3,133.1 L382.5,132.9 L381.8,132.7 L381.1,132.5 L380.4,132.3 L379.9,132 L379.3,131.7 L378.8,131.5 L378.4,131.2 L377.9,130.8 L377.5,130.4 L377.1,130 L376.8,129.5 L376.6,129 L376.3,128.5 L376.1,127.8 L375.8,127.1 L375.5,126.3 L375.4,125.7 L375.2,125.2 L375,124.6 L374.9,124 L374.7,123.4 L374.5,122.7 L374.4,122.1 L374.2,121.4 L374,120.6 L373.9,119.9 L373.7,119.2 L373.5,118.4 L373.4,117.7 L373.2,117.1 L373.1,116.4 L373,115.8 L372.8,115.1 L372.7,114.4 L372.5,113.7 L372.4,113 L372.2,112.3 L372.1,111.6 L372,110.9 L371.8,110.2 L371.7,109.5 L371.6,108.8 L371.4,108.1 L371.3,107.4 L371.2,106.7 L371.1,106 L371,105.3 L370.8,104.6 L370.7,103.9 L370.6,103.2 L370.5,102.5 L370.4,101.7 L370.3,101 L370.2,100.3 L370.1,99.6 L370,98.9 L370,98.3 L369.9,97.6 L369.8,97 L369.7,96.4 L369.6,95.8 L369.4,94.9 L369.2,94 L369.1,93.2 L368.9,92.4 L368.8,91.7 L368.6,91 L368.5,90.5 L368.4,90 L368.3,89.6 Z" fill="#000"/>
<line x1="365.1" y1="174.6" x2="365.1" y2="249" stroke="#000" stroke-width="1.5"/>
<path d="M336,203.2 L337,203.5 L337,203.2 L337.3,203.6 L337.6,203.4 L337.9,203.7 L338,203.7 L338.2,203.5 L338.5,203.7 L338.8,203.3 L339,203.2 L340,203.5 L340.6,203.1 L340.9,203.2 L341,203.3 L341.2,203.5 L341.5,203.2 L341.8,203.1 L342,203.6 L342.1,203.3 L342.4,203.6 L342.6,203.6 L342.7,203.2 L342.9,203 L343,202.9 L343.2,202.7 L343.3,202.6 L343.5,202.4 L343.8,202.2 L344,202.4 L344.1,202.1 L344.4,202.2 L344.5,202.4 L344.7,202.3 L344.7,202.4 L344.8,202.9 L345,202.8 L345,202.9 L345.1,202.5 L345.2,202.6 L345.3,202.7 L345.3,202.3 L345.4,202.6 L345.5,202.5 L345.6,202.1 L345.7,202.4 L345.8,202.1 L345.9,202.1 L346,201.7 L346,201.9 L346.1,201.7 L346.2,201.1 L346.3,200.9 L346.4,201.1 L346.5,201.2 L346.6,200.6 L346.7,200.6 L346.8,200.6 L346.9,200.3 L346.9,200.4 L347,200.3 L347.2,200.3 L347.2,200.4 L347.3,200.2 L347.5,200.3 L347.6,200.1 L347.8,198.7 L347.9,198.7 L348,198.5 L348.1,198 L348.2,197.7 L348.4,198 L348.5,197.7 L348.6,197.7 L348.7,198.1 L348.8,198.5 L348.9,198.3 L349,198.9 L349.1,199.4 L349.2,199.9 L349.3,200.4 L349.5,201.5 L349.6,201.8 L349.8,202.6 L350,202.8 L350.1,202.9 L350.4,202.7 L350.7,202.6 L351,202.7 L351,203 L351.3,203 L351.6,203.5 L352,203.6 L353,203.3 L353.6,203.3 L353.7,203.7 L353.9,203.1 L354,202.9 L354.2,202.1 L354.3,201.7 L354.5,201.3 L354.6,201.3 L354.8,200.6 L354.9,200.5 L355,200.4 L355.1,200.3 L355.2,200.3 L355.4,200.6 L355.5,200.2 L355.7,200.3 L355.8,201 L356,201.4 L356.1,201.7 L356.4,202.2 L356.6,203.1 L356.7,203.3 L356.9,203.1 L357,203.2 L357.2,203.1 L357.5,202.7 L357.8,202.4 L358,202.2 L358.1,202.3 L358.4,202.3 L358.7,202.5 L359,203.2 L359.3,203.4 L360,203.8 L361,203.4 L361.9,203.9 L362,203.8 L362.2,203.9 L362.5,203.9 L362.8,204 L363,203.8 L363.1,203.4 L363.4,203.9 L363.7,203.6 L364,203.6 L365,203.9 L365.2,203.8 L365.2,212.2 L365,212.1 L364,211.8 L363.7,211.9 L363.4,212.7 L363.1,213 L363,213 L362.8,213 L362.5,213 L362.2,212.6 L362,212.3 L361.9,211.9 L361,212.3 L360,212.1 L359.3,212.4 L359,212.2 L358.7,211.9 L358.4,212.1 L358.1,212.1 L358,212.1 L357.8,212.1 L357.5,212.1 L357.2,212.4 L357,212.3 L356.9,212.1 L356.7,212 L356.6,212.1 L356.4,212.4 L356.1,212.5 L356,212.7 L355.8,213.2 L355.7,214 L355.5,214.5 L355.4,214.4 L355.2,215.2 L355.1,215.2 L355,215.4 L354.9,215 L354.8,215.4 L354.6,215.1 L354.5,215.1 L354.3,214.6 L354.2,214.2 L354,213.7 L353.9,212.9 L353.7,212.7 L353.6,212 L353,212.1 L352,212.6 L351.6,212.1 L351.3,212.1 L351,212.1 L351,212.5 L350.7,212.2 L350.4,212.1 L350.1,212.5 L350,212.2 L349.8,212.4 L349.6,212.5 L349.5,212.5 L349.3,212.6 L349.2,212.6 L349.1,212.5 L349,212.6 L348.9,212.2 L348.8,212.4 L348.7,212.3 L348.6,212.6 L348.5,212.7 L348.4,212.3 L348.2,212.7 L348.1,212.7 L348,212.4 L347.9,212.4 L347.8,212.2 L347.6,212.6 L347.5,212.5 L347.3,212.3 L347.2,212.4 L347.2,212.6 L347,212.6 L346.9,212.8 L346.9,212.7 L346.8,212.7 L346.7,212.8 L346.6,213 L346.5,213.2 L346.4,213 L346.3,213.3 L346.2,213.2 L346.1,213.1 L346,213 L346,213 L345.9,213.2 L345.8,213.4 L345.7,213.2 L345.6,213 L345.5,213.1 L345.4,212.9 L345.3,213 L345.3,213.1 L345.2,213.1 L345.1,212.8 L345,212.7 L345,212.7 L344.8,212.7 L344.7,212.4 L344.7,212.8 L344.5,212.8 L344.4,212.2 L344.1,212.3 L344,212.3 L343.8,212.2 L343.5,212.2 L343.3,212.7 L343.2,212.6 L343,212.7 L342.9,212.9 L342.7,212.9 L342.6,213 L342.4,212.9 L342.1,213.5 L342,213.4 L341.8,213 L341.5,213.4 L341.2,213.2 L341,213.1 L340.9,212.9 L340.6,212.3 L340,212.7 L339,212.6 L338.8,212.7 L338.5,213.1 L338.2,213.6 L338,213.5 L337.9,213.7 L337.6,213.1 L337.3,212.8 L337,212.7 L337,212.9 L336,212.5 Z" fill="#000"/>
<path d="M364.8,174.5 L364.9,174.7 L365.2,175 L365.5,174.8 L365.8,175.1 L365.8,174.9 L366.1,175.2 L366.8,176.2 L367.8,179.6 L368.2,181.8 L368.5,183.3 L368.8,182.4 L368.8,182.7 L369.1,181.8 L369.4,181.9 L369.7,181.1 L369.8,181.1 L370,181.1 L370.3,181.7 L370.6,182 L370.8,182.6 L370.9,182.5 L371.2,183.2 L371.5,184.2 L371.8,185.2 L371.8,185.6 L372.8,185.9 L372.9,186 L373.1,186.6 L373.3,186.3 L373.4,186.9 L373.6,186.5 L373.8,186.7 L373.8,186.7 L373.9,186.8 L374.1,186.3 L374.2,186.7 L374.4,186.3 L374.5,186.6 L374.6,186.1 L374.8,186.6 L374.8,186.2 L374.9,186.2 L375.1,186.1 L375.2,186.3 L375.4,186.4 L375.6,186.8 L375.7,186.7 L375.8,186.6 L375.9,187 L376,186.6 L376.3,186.9 L376.6,187.6 L376.8,187.7 L376.9,187.7 L377.8,188.4 L378.8,188.4 L379.8,189.3 L379.9,189.3 L380,189.3 L380.1,188.9 L380.3,188.1 L380.4,187.7 L380.6,187.3 L380.8,187.1 L380.8,187.1 L380.9,187 L381.1,186.8 L381.2,187.1 L381.4,187.3 L381.5,187.6 L381.6,187.6 L381.8,188.1 L381.8,188.3 L381.9,188.8 L382.1,189.5 L382.2,189.8 L382.6,190.2 L382.8,190.1 L382.9,190.1 L383.8,190.6 L384.8,191.1 L385.8,190.7 L386.1,190.9 L386.4,191.3 L386.7,190.9 L386.8,190.8 L387,190.9 L387.3,191.3 L387.6,191.3 L387.8,191.4 L387.9,191.2 L388.2,190.9 L388.5,191.1 L388.8,191.4 L388.8,191.2 L389.1,191.1 L389.4,191.3 L389.5,191.3 L389.8,191.3 L389.8,191.4 L390.1,191.2 L390.4,191.2 L390.7,191.7 L390.8,191.6 L391,191.4 L391.3,191.3 L391.3,191.3 L391.6,190.9 L391.6,191 L391.8,190.3 L391.9,190.4 L391.9,190 L392.2,189.2 L392.2,189.4 L392.5,188.9 L392.5,188.8 L392.8,188.6 L392.8,188.2 L392.8,188.4 L393.1,188.5 L393.1,188.1 L393.4,188.2 L393.4,188.3 L393.7,188.7 L393.8,189 L394,189.3 L394.3,190.2 L394.6,190.6 L394.8,191.2 L395,191.4 L395.1,191.2 L395.3,191.2 L395.4,191.2 L395.6,190.6 L395.7,190.6 L395.8,190.6 L395.9,190.6 L396,190.4 L396.2,190.7 L396.3,190.3 L396.5,190.5 L396.6,190.3 L396.8,190.9 L396.8,190.7 L396.9,191 L397.1,190.7 L397.1,191.1 L397.2,191 L397.4,190.9 L397.4,191.4 L397.5,191.5 L397.7,191.2 L397.8,191.7 L397.8,191.6 L398,191.5 L398.1,191.4 L398.3,191.3 L398.4,191.1 L398.5,191.4 L398.5,191.6 L398.6,191 L398.6,191.1 L398.8,190.8 L398.8,191 L398.8,191.1 L398.9,190.8 L399.1,190.2 L399.1,190.2 L399.2,189.7 L399.4,189.8 L399.4,190 L399.6,189.8 L399.7,189.3 L399.7,189.5 L399.8,189.2 L399.9,189.5 L399.9,189.7 L400,189.4 L400,189.8 L400.1,189.9 L400.2,189.8 L400.3,189.6 L400.3,190.1 L400.4,190.2 L400.5,190.3 L400.6,189.4 L400.6,189.3 L400.8,189.2 L400.8,189.2 L400.9,189 L400.9,188.8 L401.1,189 L401.3,188.8 L401.4,188.8 L401.6,188.9 L401.7,189 L401.8,189.2 L401.9,189.1 L402,189.4 L402.2,189.8 L402.3,189.8 L402.5,190.9 L402.6,190.7 L402.8,191.2 L402.8,191.2 L403.1,191.4 L403.4,191.1 L403.7,191.4 L403.8,191.1 L403.8,191.6 L404,190.8 L404.1,191.1 L404.2,190.7 L404.3,190.6 L404.4,190.4 L404.5,190.3 L404.6,190.4 L404.7,190.2 L404.8,190.2 L404.8,190 L404.9,190.2 L405,189.9 L405.1,190.1 L405.3,190.2 L405.4,190.2 L405.6,190.4 L405.7,190.6 L405.8,190.4 L405.9,191 L406,191 L406.2,191.2 L406.3,191.6 L406.6,191.2 L406.8,191.2 L406.9,191.2 L407.2,191.2 L407.8,191.1 L408.1,191.1 L408.4,191.1 L408.7,191.2 L408.8,191.1 L409,191.2 L409.3,191.3 L409.6,191.1 L409.8,191.4 L409.9,191.4 L410.2,191.1 L410.5,191.4 L410.8,191 L411.1,191 L411.4,191.5 L411.7,190.9 L411.8,190.9 L412.8,191.4 L413.8,190.9 L414,191.3 L414.3,191.3 L414.6,191.1 L414.8,191.1 L414.9,191.5 L415.2,191.2 L415.5,191.1 L415.7,191.2 L415.8,191.4 L416,191.1 L416.1,191 L416.1,191.4 L416.3,190.5 L416.4,190.4 L416.4,190.3 L416.4,190.8 L416.6,189.9 L416.6,190 L416.7,189.9 L416.7,190 L416.8,189.4 L416.9,189.1 L416.9,189.3 L417,188.8 L417.1,188.8 L417.2,188.8 L417.2,188.6 L417.3,188.6 L417.4,188.7 L417.5,188.2 L417.6,188.4 L417.6,188.2 L417.7,187.9 L417.8,188.1 L417.8,188 L417.9,187.9 L417.9,188.1 L418,188 L418.1,188.4 L418.1,188.6 L418.2,188.6 L418.3,188.6 L418.4,188.2 L418.4,188.4 L418.5,188.5 L418.6,188.3 L418.7,188.7 L418.8,188.2 L418.8,188.7 L418.8,188.7 L418.8,188.8 L418.9,188.8 L419,189 L419.1,188.9 L419.1,189.1 L419.1,189.4 L419.2,189.4 L419.3,189.8 L419.4,190 L419.4,189.7 L419.4,189.9 L419.5,189.9 L419.6,190.8 L419.7,191 L419.7,191 L419.8,190.9 L420,190.6 L420,190.8 L420.3,190.5 L420.3,190.1 L420.6,189.6 L420.6,189.6 L420.8,189.6 L420.9,189 L420.9,189.4 L421.2,188.6 L421.2,189 L421.5,188.9 L421.5,188.7 L421.8,188.9 L421.8,188.6 L421.8,188.5 L422.1,188.9 L422.1,188.9 L422.4,189.5 L422.4,189.4 L422.7,190 L422.8,190.4 L423,190.7 L423.3,191.3 L423.8,191.7 L424.3,191.6 L424.6,191 L424.8,190.4 L424.9,190.3 L425.2,189.9 L425.5,189.6 L425.6,189.6 L425.8,189.4 L425.8,189.4 L425.9,189.1 L426.1,189.4 L426.2,189.2 L426.4,189.7 L426.5,189.6 L426.7,189.9 L426.8,190.6 L426.8,190.6 L427,190.6 L427.1,190.7 L427.3,191.5 L427.4,191.6 L427.5,191.2 L427.7,191 L427.8,190.7 L427.8,190.5 L428,189.7 L428.1,189.3 L428.3,188.8 L428.4,188.9 L428.6,188.8 L428.7,188.8 L428.8,188.6 L429,189.2 L429.3,189.5 L429.6,190.8 L429.8,191.2 L430,191.2 L430.3,190.9 L430.6,190.7 L430.8,190.1 L430.9,189.8 L431.2,189.7 L431.5,189.3 L431.8,189.3 L431.8,189.3 L432.1,189.4 L432.4,189.8 L432.7,189.7 L432.8,190 L433,190 L433.3,190.6 L433.3,190.5 L433.6,191.5 L433.6,191.2 L433.8,191.6 L433.9,191.7 L434.2,191.4 L434.5,191.3 L434.8,191.4 L434.8,191.5 L435.1,191.5 L435.4,191.3 L435.7,191.7 L435.8,191.6 L436,191.8 L436.7,191.8 L436.8,191.6 L437,191.4 L437.3,190.9 L437.6,190.5 L437.6,190.7 L437.8,190.5 L437.9,190 L437.9,190 L438.2,189.9 L438.2,190.1 L438.5,190.3 L438.5,190.2 L438.8,190.5 L438.8,190.2 L438.8,190.4 L439.1,190.4 L439.1,190.7 L439.4,190.8 L439.4,190.7 L439.6,191.2 L439.7,191.4 L439.7,191.6 L439.8,191.1 L439.9,191.1 L440,190.9 L440.2,189.8 L440.3,190.1 L440.5,189.6 L440.6,189.5 L440.8,189 L440.8,188.8 L441.1,188.8 L441.4,189.1 L441.7,189.7 L441.8,189.6 L442,190.6 L442.3,191.2 L442.8,191.3 L443.8,191.4 L444.8,191.2 L445.8,191.4 L446.8,191.2 L446.9,191.4 L447.1,191.3 L447.2,191.5 L447.4,191.4 L447.5,190.9 L447.6,191.2 L447.8,190.9 L447.8,190.7 L447.9,191 L448.1,190.4 L448.2,190.5 L448.4,190.6 L448.6,190.2 L448.7,190.4 L448.8,190.6 L448.9,190.3 L449,190.5 L449.1,190.2 L449.3,190.7 L449.4,190.8 L449.6,190.4 L449.8,190.8 L449.8,190.6 L449.9,190.5 L450.1,190.7 L450.2,191.1 L450.4,191.1 L450.6,191.3 L450.8,191.1 L450.9,191.1 L451.2,191.2 L451.5,191.3 L451.8,191.5 L451.8,191.3 L452,191.2 L452.1,191.5 L452.3,191.4 L452.4,191.4 L452.6,191.4 L452.7,191.3 L452.8,191.1 L452.9,191 L453,191.3 L453.2,191.4 L453.3,191.5 L453.5,191.5 L453.8,191.2 L453.8,191.2 L454.1,191.5 L454.4,191 L454.7,191.1 L454.8,191.2 L454.8,191.3 L455,191.3 L455.1,191 L455.3,191.2 L455.4,191 L455.6,191.1 L455.7,191 L455.8,191.1 L456,191.3 L456.3,191.1 L456.6,191 L456.7,191.1 L456.8,191.3 L456.9,191 L457,191 L457.2,191.1 L457.3,191.3 L457.5,190.9 L457.6,191.2 L457.8,190.9 L457.8,191.4 L457.9,190.9 L458.2,191.3 L458.5,190.8 L458.8,191.1 L458.8,191 L459.1,191.3 L459.4,191.2 L459.7,190.9 L459.8,190.8 L460,191.2 L460.8,191 L461.8,190.9 L462.8,190.9 L463.8,190.9 L464.8,191 L465.8,190.8 L466.3,190.7 L466.6,190.9 L466.8,191.2 L466.9,191 L467.2,191 L467.5,191.1 L467.8,190.8 L467.8,190.8 L468.1,191 L468.4,190.6 L468.7,191 L468.8,190.6 L468.9,190.9 L469,190.7 L469.2,190.4 L469.3,189.8 L469.5,189.7 L469.6,189.6 L469.8,188.7 L469.8,189 L470.1,188.2 L470.4,188.1 L470.7,188 L470.8,187.4 L471,187.6 L471.1,187.7 L471.3,188.1 L471.4,188.2 L471.6,187.9 L471.7,188.2 L471.8,188.5 L471.9,188.9 L472,189.2 L472.1,189.2 L472.2,189.6 L472.3,189.9 L472.4,190 L472.5,189.8 L472.6,189.5 L472.7,189.8 L472.8,189.7 L472.8,189.9 L472.9,189.4 L473,189.3 L473.2,189.5 L473.3,189.4 L473.5,189.6 L473.6,189.4 L473.8,189.9 L473.8,189.8 L473.9,189.7 L474,189.7 L474.1,190.1 L474.2,189.8 L474.3,190.4 L474.4,189.8 L474.5,190 L474.6,189.3 L474.7,189.2 L474.8,189.3 L474.8,189.1 L474.9,188.9 L475.1,188.9 L475.2,188.3 L475.4,188.6 L475.5,188.3 L475.5,188.2 L475.7,188.2 L475.8,188.2 L475.8,188.5 L476,188.5 L476.1,188.7 L476.1,188.8 L476.4,189.3 L476.4,189.3 L476.7,189.6 L476.7,189.9 L476.8,190.1 L477,190.2 L477,189.9 L477.3,190.1 L477.3,190.2 L477.6,190.1 L477.6,190.1 L477.8,190.4 L477.9,190.3 L477.9,190.6 L478.2,190.5 L478.2,190.4 L478.8,190.7 L479.8,190.7 L480.8,190.9 L481.8,190.8 L482.8,190.5 L483.5,190.5 L483.8,190 L483.8,189.9 L484.1,189.3 L484.4,188.7 L484.7,188.9 L484.8,188.9 L485,189 L485.3,189.5 L485.6,190.3 L485.8,190.3 L486.8,190.7 L487.1,190.3 L487.4,190.2 L487.7,190.4 L487.7,190.2 L487.8,190.3 L488,190.4 L488,190.1 L488.3,190.1 L488.3,190.1 L488.6,190.3 L488.6,189.8 L488.8,190 L488.9,189.9 L488.9,189.7 L489.2,189.7 L489.2,189.7 L489.5,189.7 L489.5,189.8 L489.8,189.8 L489.8,189.7 L489.8,189.7 L490.1,189.9 L490.1,189.8 L490.4,189.6 L490.4,190 L490.7,189.9 L490.7,190.2 L490.8,189.8 L490.9,190.1 L491,190 L491.2,189.8 L491.3,189.6 L491.5,189 L491.6,188.7 L491.8,188.4 L491.8,188 L492.1,187.9 L492.4,187.2 L492.7,187.2 L492.8,187 L493,187.1 L493.3,187.6 L493.6,188.5 L493.8,188.8 L493.9,189.4 L494,189.4 L494.2,190.1 L494.3,190.5 L494.6,190.4 L494.8,190.6 L494.9,190.5 L495.2,190.5 L495.5,190 L495.6,190.3 L495.8,190.2 L495.8,190.1 L495.9,190.2 L496.1,189.2 L496.1,188.6 L496.2,188.5 L496.4,187.4 L496.4,187.6 L496.5,187.6 L496.7,186.4 L496.7,186.3 L496.8,186.3 L496.8,186.7 L497,186 L497.1,186.3 L497.3,186.8 L497.4,186.6 L497.6,187.7 L497.7,187.8 L497.8,188.6 L497.9,189 L498,189.1 L498.2,190.5 L498.3,190.2 L498.6,190.5 L498.8,190.3 L498.9,190.5 L499.2,190.3 L499.8,189.9 L500.8,189.9 L501.8,190.5 L502.8,190.4 L503.8,190.4 L503.9,190.5 L504.2,190.2 L504.5,190.4 L504.8,190.4 L504.8,190 L505.1,190.3 L505.4,190.6 L505.7,190.3 L505.8,190.5 L505.9,190 L506,190.3 L506.1,190.3 L506.3,190.3 L506.3,190.5 L506.4,189.8 L506.6,189.3 L506.6,189.1 L506.8,188.7 L506.8,188.4 L506.9,188 L506.9,187.8 L507,188 L507.1,187.4 L507.2,187.3 L507.2,187 L507.3,187.3 L507.4,186.7 L507.4,186.8 L507.5,186.8 L507.5,187.1 L507.6,187 L507.6,186.8 L507.7,186.8 L507.8,187.3 L507.8,187.2 L507.9,187.2 L507.9,187.3 L508,187.8 L508,187.8 L508.1,188.2 L508.1,187.9 L508.2,188.2 L508.2,187.8 L508.3,188 L508.3,187.8 L508.4,187.7 L508.4,187.9 L508.5,187.6 L508.6,187.9 L508.6,187.5 L508.6,187.5 L508.7,187.8 L508.7,187.5 L508.8,187.5 L508.8,187.8 L508.9,187.7 L508.9,187.8 L508.9,187.9 L509,188 L509.1,187.5 L509.1,187.8 L509.2,187.9 L509.2,187.8 L509.3,188.3 L509.4,188.1 L509.5,188.7 L509.5,188.2 L509.6,188.7 L509.7,188.9 L509.8,189.3 L509.8,189.1 L509.9,189.7 L510,189.5 L510.1,189.7 L510.1,189.6 L510.2,189.7 L510.3,189.9 L510.4,190.1 L510.4,189.8 L510.4,190 L510.7,189.8 L510.7,190.1 L510.7,189.8 L510.8,189.8 L511,188.9 L511,189.3 L511.3,188 L511.6,187.6 L511.8,187.6 L511.9,187.4 L512.1,187.3 L512.2,187.4 L512.4,187 L512.5,186.6 L512.7,185.8 L512.8,185.7 L512.8,185.7 L513,185.3 L513.1,185.7 L513.3,186.1 L513.4,186.7 L513.6,186.9 L513.7,187.8 L513.8,188.1 L513.9,188.7 L514.2,190.4 L514.8,190.6 L515.3,190.3 L515.6,189.8 L515.8,189.3 L515.9,189 L516.2,188.1 L516.3,187.7 L516.3,202 L516.2,201.6 L515.9,201.8 L515.8,202 L515.6,201.8 L515.3,202 L514.8,201.8 L514.2,201.7 L513.9,201.6 L513.8,201.9 L513.7,201.8 L513.6,201.6 L513.4,201.9 L513.3,201.8 L513.1,201.6 L513,201.9 L512.8,201.6 L512.8,201.6 L512.7,202 L512.5,201.8 L512.4,201.9 L512.2,201.8 L512.1,202 L511.9,201.6 L511.8,201.9 L511.6,201.9 L511.3,201.7 L511,202.1 L511,201.7 L510.8,202.1 L510.7,202 L510.7,202.2 L510.7,202.4 L510.4,202.9 L510.4,203 L510.4,203 L510.3,202.8 L510.2,203 L510.1,203 L510.1,203.2 L510,203.5 L509.9,203.3 L509.8,203.5 L509.8,203.7 L509.7,203.7 L509.6,203.7 L509.5,203.9 L509.5,204.1 L509.4,203.9 L509.3,204.4 L509.2,203.9 L509.2,204.2 L509.1,204.3 L509.1,204.2 L509,204.1 L508.9,204.1 L508.9,204.3 L508.9,204 L508.8,204 L508.8,204.2 L508.7,204.1 L508.7,204.1 L508.6,203.7 L508.6,204 L508.6,204 L508.5,203.6 L508.4,203.5 L508.4,203.7 L508.3,203.5 L508.3,203.9 L508.2,203.4 L508.2,203.6 L508.1,204.1 L508.1,203.6 L508,203.9 L508,203.8 L507.9,204 L507.9,204.4 L507.8,203.9 L507.8,204.2 L507.7,204.4 L507.6,204.2 L507.6,204.1 L507.5,204.5 L507.5,204.5 L507.4,204.3 L507.4,204.2 L507.3,204.4 L507.2,204.3 L507.2,204.2 L507.1,203.8 L507,203.5 L506.9,203.9 L506.9,203.6 L506.8,203.7 L506.8,203.6 L506.6,203 L506.6,203.4 L506.4,203.1 L506.3,202.8 L506.3,203 L506.1,202.9 L506,203.1 L505.9,203.1 L505.8,203.4 L505.7,203.2 L505.4,203.4 L505.1,203.1 L504.8,203.1 L504.8,203.2 L504.5,202.9 L504.2,202 L503.9,202.1 L503.8,202.1 L502.8,201.8 L501.8,201.6 L500.8,202 L499.8,201.8 L499.2,201.7 L498.9,202.2 L498.8,202.2 L498.6,202.3 L498.3,202.7 L498.2,202.7 L498,202.9 L497.9,203 L497.8,203.1 L497.7,203 L497.6,202.9 L497.4,202.8 L497.3,203.1 L497.1,202.7 L497,203.1 L496.8,202.9 L496.8,203 L496.7,202.7 L496.7,202.7 L496.5,202.7 L496.4,202.7 L496.4,202.6 L496.2,203.5 L496.1,203.2 L496.1,203.6 L495.9,204 L495.8,204.1 L495.8,203.7 L495.6,204.1 L495.5,204.4 L495.2,204 L494.9,203.7 L494.8,203.9 L494.6,203.5 L494.3,202.8 L494.2,202.1 L494,202.1 L493.9,202 L493.8,201.9 L493.6,202 L493.3,201.6 L493,201.7 L492.8,201.9 L492.7,201.8 L492.4,201.6 L492.1,202.1 L491.8,201.8 L491.8,202 L491.6,201.9 L491.5,201.8 L491.3,202.1 L491.2,202 L491,201.8 L490.9,201.8 L490.8,201.9 L490.7,202 L490.7,201.9 L490.4,202.2 L490.4,202.2 L490.1,203.1 L490.1,203.2 L489.8,203.3 L489.8,203.3 L489.8,203.6 L489.5,204.1 L489.5,203.9 L489.2,203.9 L489.2,204.4 L488.9,204.3 L488.9,204.1 L488.8,204.2 L488.6,204.3 L488.6,204.1 L488.3,203.7 L488.3,203.8 L488,203.3 L488,203.4 L487.8,203.2 L487.7,202.7 L487.7,203 L487.4,202.1 L487.1,201.9 L486.8,202 L485.8,202.1 L485.6,201.7 L485.3,202 L485,202 L484.8,202.2 L484.7,201.7 L484.4,202 L484.1,202.1 L483.8,201.7 L483.8,202 L483.5,201.7 L482.8,202.1 L481.8,201.8 L480.8,201.7 L479.8,202 L478.8,201.9 L478.2,202.2 L478.2,202.1 L477.9,202.9 L477.9,202.5 L477.8,203.2 L477.6,203.5 L477.6,203.3 L477.3,204.4 L477.3,204.2 L477,204.3 L477,204.2 L476.8,204.7 L476.7,204.6 L476.7,204.3 L476.4,204.4 L476.4,204 L476.1,203.7 L476.1,203.7 L476,203.2 L475.8,202.4 L475.8,202.8 L475.7,202.1 L475.5,202.5 L475.5,202.5 L475.4,202.4 L475.2,202.7 L475.1,202.7 L474.9,202.8 L474.8,203.1 L474.8,202.8 L474.7,202.7 L474.6,202.9 L474.5,203.1 L474.4,203.2 L474.3,202.9 L474.2,203.2 L474.1,203.4 L474,203.3 L473.9,202.9 L473.8,203.4 L473.8,203.4 L473.6,202.9 L473.5,203.1 L473.3,202.8 L473.2,203.1 L473,202.8 L472.9,202.4 L472.8,202.5 L472.8,202.7 L472.7,202.4 L472.6,202.5 L472.5,202.4 L472.4,202 L472.3,202.4 L472.2,202.2 L472.1,202.3 L472,202.1 L471.9,201.7 L471.8,202 L471.7,202 L471.6,201.7 L471.4,202.1 L471.3,202 L471.1,202.1 L471,201.8 L470.8,202 L470.7,201.8 L470.4,202.2 L470.1,202.3 L469.8,202.1 L469.8,202 L469.6,202 L469.5,202 L469.3,202.7 L469.2,202.4 L469,203 L468.9,203.3 L468.8,203 L468.7,203.4 L468.4,203.8 L468.1,203.4 L467.8,203.7 L467.8,203.4 L467.5,203.4 L467.2,203.3 L466.9,202.6 L466.8,202.7 L466.6,202.6 L466.3,201.8 L465.8,202.1 L464.8,202.1 L463.8,202.1 L462.8,202.1 L461.8,202 L460.8,202.3 L460,202.6 L459.8,203 L459.7,202.9 L459.4,203.2 L459.1,204 L458.8,204.2 L458.8,204 L458.5,203.9 L458.2,204.1 L457.9,204 L457.8,203.8 L457.8,203.7 L457.6,203.4 L457.5,203.6 L457.3,203.3 L457.2,203.6 L457,203.4 L456.9,203.4 L456.8,203.9 L456.7,203.8 L456.6,203.8 L456.3,203.9 L456,203.5 L455.8,203.7 L455.7,203.2 L455.6,203.5 L455.4,203.1 L455.3,202.8 L455.1,203.5 L455,203.7 L454.8,203.9 L454.8,203.8 L454.7,203.9 L454.4,204.2 L454.1,204.7 L453.8,205 L453.8,204.6 L453.5,204.9 L453.3,204.3 L453.2,204.6 L453,204.1 L452.9,203.8 L452.8,204.1 L452.7,204.4 L452.6,204.3 L452.4,204.5 L452.3,204.9 L452.1,204.8 L452,204.8 L451.8,204.5 L451.8,204.3 L451.5,203.8 L451.2,202.8 L450.9,202.1 L450.8,202.1 L450.6,202.3 L450.4,202.5 L450.2,202.4 L450.1,202.8 L449.9,202.8 L449.8,202.8 L449.8,202.9 L449.6,203.3 L449.4,203.2 L449.3,203.3 L449.1,203.4 L449,203.4 L448.9,203.8 L448.8,203.6 L448.7,203.7 L448.6,203.9 L448.4,203.5 L448.2,203.6 L448.1,203.6 L447.9,203.4 L447.8,203.3 L447.8,203.2 L447.6,203.2 L447.5,202.9 L447.4,202.9 L447.2,202.9 L447.1,202.3 L446.9,202.5 L446.8,202.4 L445.8,202.8 L444.8,202.4 L443.8,202.4 L442.8,202.7 L442.3,202.7 L442,202.7 L441.8,202.4 L441.7,202.5 L441.4,202.4 L441.1,202.5 L440.8,202.6 L440.8,202.5 L440.6,202.9 L440.5,202.6 L440.3,203 L440.2,203.2 L440,203.8 L439.9,203.4 L439.8,204 L439.7,203.7 L439.7,204.2 L439.6,203.7 L439.4,204 L439.4,204.3 L439.1,204.1 L439.1,204 L438.8,204.2 L438.8,204.1 L438.8,203.9 L438.5,203.7 L438.5,203.7 L438.2,203.7 L438.2,203.7 L437.9,203.1 L437.9,202.8 L437.8,202.7 L437.6,202.6 L437.6,202.5 L437.3,203 L437,202.6 L436.8,203 L436.7,202.7 L436,202.5 L435.8,203.1 L435.7,202.8 L435.4,203.1 L435.1,203.3 L434.8,203.6 L434.8,203.7 L434.5,203.6 L434.2,203.9 L433.9,203.5 L433.8,203.3 L433.6,203.1 L433.6,203.1 L433.3,202.8 L433.3,203 L433,203.1 L432.8,202.7 L432.7,203 L432.4,202.5 L432.1,202.5 L431.8,202.9 L431.8,202.8 L431.5,203.1 L431.2,202.6 L430.9,203.1 L430.8,203.1 L430.6,203 L430.3,203 L430,203.1 L429.8,202.8 L429.6,203 L429.3,202.9 L429,202.9 L428.8,202.6 L428.7,203 L428.6,203.2 L428.4,203.8 L428.3,203.7 L428.1,204.1 L428,204 L427.8,204.5 L427.8,204.5 L427.7,204.7 L427.5,205 L427.4,204.8 L427.3,204.8 L427.1,205.2 L427,205.2 L426.8,204.8 L426.8,204.9 L426.7,204.6 L426.5,204.5 L426.4,204.7 L426.2,203.9 L426.1,203.9 L425.9,203.7 L425.8,203.1 L425.8,203.2 L425.6,203.1 L425.5,202.8 L425.2,202.8 L424.9,202.9 L424.8,203 L424.6,203.1 L424.3,202.9 L423.8,202.8 L423.3,202.9 L423,203.1 L422.8,202.8 L422.7,202.9 L422.4,203.2 L422.4,203.2 L422.1,203 L422.1,203.4 L421.8,203.5 L421.8,203.3 L421.8,203.6 L421.5,203.3 L421.5,203.8 L421.2,203.5 L421.2,203.9 L420.9,203.8 L420.9,203.7 L420.8,203.6 L420.6,203.6 L420.6,203.4 L420.3,203.8 L420.3,203.9 L420,203.8 L420,203.9 L419.8,203.8 L419.7,203.5 L419.7,203.8 L419.6,203.7 L419.5,203.7 L419.4,203.2 L419.4,203.3 L419.4,203.3 L419.3,203.3 L419.2,203.9 L419.1,203.9 L419.1,204 L419.1,204.1 L419,203.9 L418.9,204.2 L418.8,204.3 L418.8,204.1 L418.8,204.4 L418.8,204.3 L418.7,204.3 L418.6,204.9 L418.5,204.9 L418.4,204.7 L418.4,205 L418.3,204.7 L418.2,204.9 L418.1,205.3 L418.1,205.2 L418,204.9 L417.9,204.8 L417.9,205.2 L417.8,205.2 L417.8,205 L417.7,204.7 L417.6,204.8 L417.6,204.7 L417.5,204.7 L417.4,204.7 L417.3,204.5 L417.2,204.5 L417.2,204.7 L417.1,204.3 L417,204.1 L416.9,204.4 L416.9,204.3 L416.8,203.6 L416.7,203.6 L416.7,204 L416.6,203.8 L416.6,203.7 L416.4,204.1 L416.4,204.5 L416.4,204.4 L416.3,204.9 L416.1,205.1 L416.1,205.6 L416,205.5 L415.8,206.1 L415.7,206 L415.5,206.2 L415.2,206.6 L414.9,205.8 L414.8,205.7 L414.6,205.3 L414.3,204.3 L414,203.1 L413.8,203.2 L412.8,203.5 L411.8,203.7 L411.7,203.8 L411.4,204.3 L411.1,204.6 L410.8,205 L410.5,205.7 L410.2,205.8 L409.9,205.8 L409.8,205.9 L409.6,205.8 L409.3,205.2 L409,204.9 L408.8,204.7 L408.7,204.4 L408.4,204.1 L408.1,203.3 L407.8,203.4 L407.2,203.7 L406.9,204.6 L406.8,205 L406.6,205.2 L406.3,205.3 L406.2,205.9 L406,205.7 L405.9,206.1 L405.8,206.1 L405.7,205.8 L405.6,206 L405.4,205.7 L405.3,205.6 L405.1,205 L405,204.8 L404.9,204.8 L404.8,204.8 L404.8,204.5 L404.7,204.3 L404.6,204.5 L404.5,204.1 L404.4,204 L404.3,204.1 L404.2,204 L404.1,204.4 L404,204.4 L403.8,204.6 L403.8,204.2 L403.7,204.3 L403.4,204.6 L403.1,204.5 L402.8,204.5 L402.8,204.3 L402.6,204.4 L402.5,204.3 L402.3,203.9 L402.2,203.9 L402,203.8 L401.9,203.7 L401.8,204 L401.7,203.6 L401.6,203.4 L401.4,203.7 L401.3,203.3 L401.1,203.2 L400.9,203.1 L400.9,203.2 L400.8,203.7 L400.8,203.4 L400.6,203.7 L400.6,203.3 L400.5,203.4 L400.4,203.4 L400.3,203.6 L400.3,203.7 L400.2,203.5 L400.1,203.8 L400,203.5 L400,204 L399.9,203.7 L399.9,203.9 L399.8,204.1 L399.7,204.1 L399.7,204.3 L399.6,204.1 L399.4,204.2 L399.4,204.5 L399.2,204.4 L399.1,204.4 L399.1,204.1 L398.9,204.4 L398.8,204.2 L398.8,204.2 L398.8,204.4 L398.6,204.3 L398.6,204.5 L398.5,204.2 L398.5,204.1 L398.4,204.3 L398.3,204.4 L398.1,203.9 L398,203.9 L397.8,203.7 L397.8,204 L397.7,204.1 L397.5,204.2 L397.4,204.4 L397.4,204 L397.2,204.1 L397.1,204.2 L397.1,204.3 L396.9,204.5 L396.8,204.5 L396.8,204.5 L396.6,204.3 L396.5,204.2 L396.3,204.3 L396.2,204.2 L396,204.2 L395.9,204.1 L395.8,204 L395.7,203.9 L395.6,204 L395.4,203.5 L395.3,203.5 L395.1,203.5 L395,203.2 L394.8,203.2 L394.6,203 L394.3,203.5 L394,203.5 L393.8,203.2 L393.7,203 L393.4,203.1 L393.4,203.6 L393.1,203.8 L393.1,203.7 L392.8,204.1 L392.8,204.1 L392.8,204.4 L392.5,204.6 L392.5,204.8 L392.2,205.2 L392.2,204.9 L391.9,205.1 L391.9,205.4 L391.8,205.7 L391.6,205.7 L391.6,205.6 L391.3,205.5 L391.3,205.6 L391,205.5 L390.8,205.1 L390.7,204.8 L390.4,204.8 L390.1,204.1 L389.8,203.6 L389.8,203.3 L389.5,203.3 L389.4,203.1 L389.1,203.3 L388.8,203.6 L388.8,203.8 L388.5,204.1 L388.2,204 L387.9,204.3 L387.8,204 L387.6,203.8 L387.3,204 L387,203.9 L386.8,203.8 L386.7,203.8 L386.4,203.1 L386.1,202.9 L385.8,203.3 L384.8,203.1 L383.8,203.1 L382.9,203.1 L382.8,203.2 L382.6,203.5 L382.2,203.9 L382.1,203.7 L381.9,204.1 L381.8,203.7 L381.8,203.8 L381.6,203.8 L381.5,204.1 L381.4,203.7 L381.2,204.1 L381.1,203.6 L380.9,203.5 L380.8,203.4 L380.8,203.8 L380.6,203.3 L380.4,203.5 L380.3,203.2 L380.1,202.8 L380,202.7 L379.9,202.6 L379.8,202.9 L378.8,202.5 L377.8,202.3 L376.9,202.3 L376.8,202.3 L376.6,202.4 L376.3,202.3 L376,202.2 L375.9,202.5 L375.8,202.3 L375.7,202.6 L375.6,203 L375.4,203.4 L375.2,203.1 L375.1,203.6 L374.9,203.6 L374.8,203.8 L374.8,203.7 L374.6,203.8 L374.5,203.7 L374.4,203.4 L374.2,203.2 L374.1,203 L373.9,203.1 L373.8,202.7 L373.8,202.7 L373.6,202.5 L373.4,201.7 L373.3,201.8 L373.1,201 L372.9,200.5 L372.8,200.2 L371.8,199.6 L371.8,200.1 L371.5,199.8 L371.2,199.7 L370.9,199.7 L370.8,199.4 L370.6,199.2 L370.3,199.3 L370,199.1 L369.8,199.4 L369.7,199.1 L369.4,199 L369.1,198.9 L368.8,199.2 L368.8,198.7 L368.5,198.6 L368.2,198.9 L367.8,198.4 L366.8,198.3 L366.1,198.5 L365.8,198.8 L365.8,198.5 L365.5,198.9 L365.2,198.6 L364.9,198.6 L364.8,198.6 Z" fill="#000"/>
<text x="477.0" y="38.8" font-size="20" font-weight="bold">B</text>
<text x="494" y="123.6" font-size="14.4">1.</text>
<text x="495.5" y="176.0" font-size="14.4">2.</text>
<line x1="21.3" y1="311.8" x2="21.3" y2="501" stroke="#000" stroke-width="1.4"/>
<polygon points="21.3,296 17.4,312.3 25.2,312.3" fill="#000"/>
<text transform="translate(10.60,497.6) rotate(-90.218) scale(0.957,1)" font-size="11.5">%</text>
<text transform="translate(10.55,484.6) rotate(-90.218) scale(1.133,1)" font-size="11.5">increase</text>
<text transform="translate(10.34,428.5) rotate(-90.218) scale(1.117,1)" font-size="11.5">in</text>
<text transform="translate(10.27,411.8) rotate(-90.218) scale(1.076,1)" font-size="11.5">light</text>
<text transform="translate(10.17,383.8) rotate(-90.218) scale(1.119,1)" font-size="11.5">transmission</text>
<text transform="translate(62.90,380.6) rotate(-90.000) scale(1.174,1)" font-size="12">thrombin</text>
<text transform="translate(62.90,321.2) rotate(-90.000) scale(1.139,1)" font-size="12">0.1</text>
<text transform="translate(62.90,297.1) rotate(-90.000) scale(1.156,1)" font-size="12">U/ml</text>
<line x1="59.1" y1="382.7" x2="59.1" y2="395.1" stroke="#000" stroke-width="1.6"/>
<polygon points="56.3,394.6 61.9,394.6 59.1,404.2" fill="#000"/>
<line x1="57.6" y1="407" x2="57.6" y2="440.3" stroke="#000" stroke-width="1.4"/>
<path d="M36.5,422 L37.5,421.9 L37.7,421.5 L38,421.8 L38.3,421.1 L38.5,421.2 L38.6,421.5 L38.9,421.2 L39.2,421 L39.5,421.1 L39.5,421.1 L39.8,421.1 L40.1,421.8 L40.4,421.5 L40.5,421.7 L41.5,422 L42.5,421.8 L43.5,422.2 L44.5,421.7 L45.5,422.2 L46.1,422.1 L46.4,422 L46.5,422.1 L46.6,421.9 L46.7,422 L46.9,421.8 L47,421.5 L47.2,421.3 L47.3,421.4 L47.5,421.1 L47.5,420.9 L47.6,421.3 L47.8,421 L47.9,421.2 L48.1,421.5 L48.2,421.2 L48.4,421.3 L48.5,421.4 L48.7,421.9 L49.5,421.8 L50.5,421.8 L51.5,421.9 L52.5,422.2 L52.8,421.8 L53.1,421.9 L53.4,422.2 L53.5,422 L53.7,421.8 L54,422 L54.3,422 L54.4,421.8 L54.5,421.9 L54.6,421.9 L54.7,422.2 L54.9,421.9 L55,422.1 L55.3,422.3 L55.5,422.2 L55.6,421.9 L55.9,422 L56.2,421.9 L56.5,421.9 L57.5,422 L57.6,422.2 L57.6,430.3 L57.5,430 L56.5,430.3 L56.2,430 L55.9,430.6 L55.6,430.4 L55.5,431 L55.3,430.6 L55,430.9 L54.9,430.6 L54.7,430.1 L54.6,430.5 L54.5,430.3 L54.4,430.4 L54.3,430.8 L54,430.7 L53.7,431 L53.5,430.9 L53.4,430.3 L53.1,430.5 L52.8,430.2 L52.5,430.1 L51.5,430.4 L50.5,430.4 L49.5,430.4 L48.7,430.2 L48.5,429.9 L48.4,430.4 L48.2,430.1 L48.1,430.6 L47.9,430.7 L47.8,430.9 L47.6,430.8 L47.5,430.9 L47.5,430.6 L47.3,430.6 L47.2,431 L47,430.6 L46.9,430.9 L46.7,430.7 L46.6,430.4 L46.5,430.4 L46.4,430.2 L46.1,430.2 L45.5,430.2 L44.5,430.4 L43.5,430.4 L42.5,430.2 L41.5,430.4 L40.5,430.6 L40.4,430.1 L40.1,430.1 L39.8,430.5 L39.5,430.6 L39.5,430.3 L39.2,430.5 L38.9,430.1 L38.6,430.5 L38.5,430.1 L38.3,430.1 L38,430.3 L37.7,430.1 L37.5,430.3 L36.5,430.7 Z" fill="#000"/>
<polygon points="57.2,408.8 58.7,406.8 60.2,409 61.4,414 60.5,415.2 58.3,416.5 57.2,418" fill="#000"/>
<path d="M58.4,407.7 L58.5,408.1 L58.6,408.6 L58.8,409.2 L59,409.9 L59.2,410.7 L59.4,411.5 L59.6,412.2 L59.9,413 L60.1,413.7 L60.2,414.3 L60.5,415.1 L60.7,416 L60.9,416.9 L61.2,417.8 L61.5,418.5 L61.9,419.3 L63,419.7 L64,419.3 L64.5,418.7 L64.8,418.1 L65.1,417.4 L65.4,416.6 L65.8,415.7 L66.1,414.8 L66.4,413.9 L66.6,413.3 L66.8,412.8 L67,412.2 L67.2,411.6 L67.4,410.9 L67.7,410.3 L67.9,409.6 L68.1,408.9 L68.3,408.2 L68.5,407.5 L68.8,406.8 L69,406.2 L69.2,405.5 L69.4,404.8 L69.6,404.2 L69.8,403.6 L70,402.9 L70.3,402.3 L70.5,401.6 L70.8,401 L71,400.4 L71.2,399.8 L71.5,399.1 L71.7,398.5 L71.9,397.8 L72.2,397.2 L72.4,396.5 L72.6,395.7 L72.8,394.9 L73,394.3 L73.1,393.7 L73.2,393.1 L73.4,392.5 L73.5,391.8 L73.6,391.1 L73.7,390.5 L73.8,389.8 L74,389.1 L74.1,388.4 L74.2,387.7 L74.3,387.1 L74.4,386.4 L74.6,385.7 L74.7,385 L74.8,384.4 L75,383.7 L75.1,383 L75.3,382.4 L75.5,381.7 L75.6,381.1 L75.8,380.4 L76,379.8 L76.2,379.1 L76.4,378.5 L76.6,377.8 L76.8,377.1 L77,376.5 L77.2,375.8 L77.4,375.2 L77.6,374.5 L77.8,373.8 L78,373.2 L78.2,372.5 L78.4,371.8 L78.6,371.2 L78.8,370.5 L79,369.9 L79.2,369.2 L79.4,368.5 L79.6,367.9 L79.8,367.2 L80,366.6 L80.2,365.9 L80.4,365.3 L80.6,364.6 L80.8,363.9 L81,363.3 L81.2,362.6 L81.4,362 L81.6,361.3 L81.8,360.6 L82,360 L82.1,359.3 L82.3,358.6 L82.5,358 L82.7,357.3 L82.8,356.6 L83,356 L83.2,355.3 L83.3,354.7 L83.5,354 L83.7,353.3 L83.8,352.7 L84,352 L84.1,351.4 L84.3,350.7 L84.5,350.1 L84.6,349.4 L84.8,348.8 L85,348.1 L85.1,347.5 L85.3,346.8 L85.5,346.1 L85.7,345.4 L86,344.6 L86.2,343.9 L86.4,343.1 L86.6,342.4 L86.9,341.6 L87.1,340.8 L87.3,340.1 L87.6,339.4 L87.8,338.7 L88,338.1 L88.1,337.5 L88.3,336.9 L88.5,336.4 L88.6,336 L88.7,335.6 L84.3,334.4 L84.2,334.8 L84.1,335.2 L84,335.7 L83.8,336.2 L83.7,336.9 L83.5,337.5 L83.3,338.2 L83.1,338.9 L82.9,339.7 L82.7,340.4 L82.5,341.2 L82.3,342 L82.1,342.8 L82,343.6 L81.8,344.3 L81.6,345.1 L81.4,345.8 L81.3,346.5 L81.1,347.2 L81,347.9 L80.8,348.5 L80.7,349.2 L80.6,349.9 L80.4,350.6 L80.3,351.2 L80.2,351.9 L80,352.6 L79.9,353.2 L79.8,353.9 L79.7,354.6 L79.5,355.2 L79.4,355.9 L79.3,356.5 L79.1,357.2 L79,357.8 L78.9,358.5 L78.7,359.1 L78.6,359.8 L78.4,360.5 L78.2,361.1 L78.1,361.8 L77.9,362.4 L77.8,363.1 L77.6,363.8 L77.4,364.4 L77.3,365.1 L77.1,365.8 L76.9,366.4 L76.7,367.1 L76.6,367.8 L76.4,368.4 L76.2,369.1 L76.1,369.8 L75.9,370.4 L75.7,371.1 L75.6,371.8 L75.4,372.4 L75.2,373.1 L75,373.8 L74.9,374.4 L74.7,375.1 L74.5,375.8 L74.3,376.5 L74.2,377.1 L74,377.8 L73.8,378.5 L73.6,379.2 L73.5,379.8 L73.3,380.5 L73.2,381.2 L73,381.9 L72.9,382.6 L72.7,383.2 L72.6,383.9 L72.5,384.6 L72.4,385.3 L72.3,386 L72.2,386.7 L72.1,387.4 L72,388.1 L71.9,388.8 L71.8,389.5 L71.7,390.2 L71.6,390.8 L71.5,391.5 L71.4,392.1 L71.3,392.7 L71.2,393.3 L71.1,393.9 L71,394.5 L70.8,395.2 L70.6,395.9 L70.4,396.6 L70.2,397.2 L70,397.9 L69.7,398.5 L69.5,399.1 L69.3,399.7 L69,400.3 L68.8,400.9 L68.5,401.6 L68.3,402.3 L68,403 L67.8,403.6 L67.6,404.2 L67.4,404.9 L67.1,405.6 L66.9,406.2 L66.7,406.9 L66.5,407.6 L66.2,408.3 L66,409 L65.8,409.7 L65.6,410.3 L65.4,411 L65.2,411.6 L65,412.1 L64.8,412.7 L64.6,413.1 L64.2,414.1 L63.8,415 L63.5,415.8 L63.2,416.5 L62.9,417.1 L62.7,417.5 L62.6,417.6 L63,417.5 L63.5,417.7 L63.4,417.6 L63.2,417.1 L63,416.3 L62.7,415.5 L62.4,414.6 L62.2,413.7 L62,413.1 L61.7,412.4 L61.5,411.7 L61.3,410.9 L61.1,410.2 L60.9,409.4 L60.7,408.7 L60.5,408.1 L60.3,407.5 L60.2,407.1 Z" fill="#000"/>
<path d="M84.1,335.9 L84.9,334.8 L84.9,333.4 L85.2,332.1 L86.2,331.1 L86.5,329.7 L86.8,328.4 L87.7,327.3 L87.4,325.7 L88.1,324.5 L89.2,323.5 L89.7,322.3 L90.3,321.1 L90.2,319.6 L90.9,318.4 L91.5,317.2 L91.8,315.8 L93.1,315.1 L93.2,313.7 L93.8,312.6 L94.3,311.4 L94.5,310 L95.3,309.1 L95.9,307.9 L96.6,306.7 L97.5,305.5 L98.1,304.2 L99.7,303.6 L99.8,301.9 L101,300.9 L102.6,300.7 L103.9,299.9 L105.3,300.5 L106.9,300.3 L108.3,300.6 L109.8,301.1 L111,301.2 L112.2,301.3 L113.4,301.1 L114.6,300.7 L116,300.8 L116.8,302 L118,302.4 L118.8,303.4 L120,303.9 L120.7,304.9 L121.7,305.8 L122.9,306.5 L124.2,306.7 L125.5,307.1 L126.4,308.2 L127.8,308.6 L129.1,308.4 L130.5,307.9 L131.9,308 L132.8,309.2 L133.9,309.7 L134.5,311 L135.6,311.8 L137.1,311.7 L138.2,312.9 L139.7,313 L140.9,313.8 L142.1,322.4 L140.7,323.1 L139.5,323 L138.4,322 L137.1,322.5 L136,321.6 L134.6,322.2 L133.4,322 L132.3,321.1 L131,321.1 L129.9,320.6 L128.6,320.4 L127.3,320.1 L125.7,320.9 L124.7,319.6 L123.5,319.1 L122.2,318.9 L120.9,318.9 L120,317.4 L118.5,317.7 L117.6,316.6 L116.5,315.9 L115.3,315.6 L113.9,315.5 L113.2,314.1 L111.8,314.1 L110.3,313.9 L108.8,314 L107.4,314.2 L105.7,313.4 L104.5,314.4 L103.3,315.2 L102.5,316.7 L101.3,317.5 L100.2,318.2 L98.8,318.8 L98.3,320.1 L97.7,321.3 L97.1,322.5 L96,323.4 L94.8,324.2 L94.7,325.7 L93.9,326.7 L93.2,327.7 L92.7,328.8 L92.2,330 L91.2,330.8 L91.7,332.7 L89.3,333.1 L89.4,334.7 L88.7,336 Z" fill="#000"/>
<path d="M140,313.3 L141,313.8 L141.6,313.7 L141.9,313.8 L142,313.7 L142.2,314.1 L142.5,314.2 L142.8,314.3 L143,314 L143,314 L143.1,314.1 L143.3,313.6 L143.4,314.1 L143.6,313.8 L143.7,313.4 L143.9,313.4 L144,313.4 L144,313.7 L144.2,313.5 L144.3,313.2 L144.5,313.7 L144.8,313.8 L145,313.9 L145.1,313.7 L145.4,314 L145.7,314.3 L145.8,314.8 L146,314.3 L146.2,314.3 L146.4,313.2 L146.8,312.8 L147,313.2 L147.1,313.1 L147.2,313.4 L147.3,313.6 L147.5,314 L147.7,314.2 L147.8,313.7 L148,313.6 L148.1,313.7 L148.3,313.3 L148.3,313.3 L148.4,313.3 L148.6,313.3 L148.6,313.5 L148.7,313.7 L148.9,313.3 L148.9,313.7 L149,313.8 L149,314.1 L149,313.9 L149.2,313.9 L149.2,314.3 L149.3,314.5 L149.3,314.6 L149.5,314.4 L149.5,313.9 L149.6,314.1 L149.6,314.2 L149.8,314 L149.8,314.3 L149.9,314.2 L150,314.5 L150.1,313.9 L150.1,314.4 L150.2,314 L150.4,314.4 L150.4,314.2 L150.5,314.4 L150.7,314.7 L150.7,315 L150.8,314.4 L151,314.9 L151,314.7 L151,315.2 L151.1,314.8 L151.3,315.1 L151.3,315.5 L151.4,315 L151.7,315.9 L152,315.5 L152.3,316.1 L152.6,314.9 L152.9,314.3 L153,314.5 L153.2,314.1 L153.5,314.1 L153.5,313.9 L153.8,314 L153.8,313.8 L154,314.1 L154.1,314.1 L154.1,314.5 L154.4,315.3 L154.4,315.1 L154.6,314.9 L154.7,314.9 L154.7,315.2 L154.9,315.2 L155,314.7 L155,315.1 L155.2,314.9 L155.3,315.5 L155.5,315.5 L155.6,315.5 L155.8,315.7 L155.9,315.9 L156,315.5 L156.1,315.7 L156.4,315.5 L156.7,315.6 L157,316.2 L157.6,316 L157.8,315.4 L157.8,315.5 L158,315.4 L158.1,315 L158.2,315.5 L158.4,315 L158.4,314.7 L158.7,314.9 L158.8,314.9 L159,315.2 L159.1,314.9 L159.3,315.1 L159.3,315.3 L159.6,315.5 L159.7,315.4 L159.9,316.2 L160,316.3 L160.1,316.2 L160.4,316.1 L160.7,316 L161,316.2 L161,315.8 L161.3,315.8 L161.6,315.8 L162,316.1 L163,315.9 L163.3,316.1 L163.6,316.3 L163.9,316.2 L164,315.9 L164.2,315.9 L164.4,315.8 L164.5,315.7 L164.7,315.7 L164.8,315.8 L165,315.7 L165,315.4 L165.1,315 L165.3,315.2 L165.5,315.4 L165.6,314.7 L165.8,315.1 L165.9,315.3 L166,314.9 L166.1,315.1 L166.2,315.3 L166.4,315.4 L166.5,315.1 L166.7,315.8 L166.8,315.7 L167,316.1 L167.1,316.1 L167.1,316.3 L167.3,316.3 L167.3,316.6 L167.6,316 L167.7,315.9 L167.9,316 L167.9,316.3 L168,316.4 L168.2,316.6 L168.2,315.9 L168.6,316 L168.8,316.2 L169,316.4 L169.1,316.3 L169.4,315.7 L169.7,315.2 L170,315.2 L170,315.1 L170.3,315.2 L170.6,314.9 L170.9,315.4 L171,315.9 L171.2,316 L171.5,316.2 L172,316.6 L173,316.4 L173.2,316.2 L173.5,315.9 L173.6,316.1 L173.8,315.8 L173.9,315.7 L174,315.9 L174.1,315.6 L174.2,315.7 L174.4,315.7 L174.5,315.4 L174.7,316 L174.8,315.7 L175,315.9 L175.1,316.2 L175.3,316.2 L175.4,316.2 L175.7,316.3 L176,316.2 L177,316.5 L178,316.5 L179,316.4 L180,316.4 L181,316.9 L181.2,316.7 L181.4,316.3 L181.8,315.5 L182,315.8 L182.1,315.2 L182.3,315.4 L182.7,315.3 L182.9,315.3 L183,315.3 L183.2,315.7 L183.6,316.1 L183.8,316.7 L183.8,316.2 L184,316.1 L184.1,316.3 L184.4,315.6 L184.7,315.4 L185,314.9 L185,314.7 L185.3,315.2 L185.6,314.8 L185.9,315.3 L186,315.7 L186.2,316.1 L186.5,316.6 L186.7,316.9 L186.9,316 L187,315.8 L187.2,315.5 L187.6,315.5 L187.8,315.7 L188,316 L188.2,316.4 L189,316.6 L189,316.8 L189.3,316.7 L189.6,317.1 L189.9,316.7 L190,316.8 L190.2,316.9 L190.2,316.9 L190.5,316.6 L190.5,316.5 L190.8,315.7 L191,316 L191.1,315.2 L191.3,315.5 L191.4,315.1 L191.6,314.9 L191.7,315.1 L191.9,315 L192,315.1 L192.2,315.9 L192.3,315.9 L192.5,315.9 L192.6,316 L192.8,316.1 L192.9,316 L193,315.9 L193.1,316.2 L193.4,316.8 L193.7,317.1 L194,316.9 L194.3,317.1 L194.6,316.8 L194.9,317.1 L195,317.1 L195.2,317.2 L195.5,316.7 L195.6,316.9 L195.8,316.6 L195.9,317 L196,316.9 L196.1,317 L196.2,316.9 L196.4,316.8 L196.5,316.6 L196.7,316.8 L196.8,317.1 L197,316.7 L197,317.2 L197.1,317.1 L197.4,316.7 L197.6,316.9 L197.7,316.9 L197.8,316.2 L198,316.5 L198.2,316.1 L198.4,316.1 L198.8,315.7 L198.8,316.2 L199,316 L199.1,316.2 L199.1,316.5 L199.3,316.6 L199.4,316.4 L199.7,316.1 L200,316 L200,316 L200.1,315.9 L200.3,315.9 L200.3,316 L200.6,316.2 L200.7,316.3 L200.9,315.9 L200.9,316.2 L201,315.8 L201.2,316 L201.2,316 L201.5,316 L201.6,316.1 L201.8,316.1 L201.8,316.4 L202,316.1 L202.2,316.4 L202.3,316.7 L202.4,316.8 L202.6,316.4 L202.9,316.2 L203,316.4 L203.2,316.1 L203.5,316.2 L203.8,316.3 L204,316.3 L204.1,316.1 L204.4,316.5 L204.7,317.1 L205,316.8 L205.5,316.6 L205.8,317.1 L206,316.8 L206.1,316.7 L206.4,316.9 L206.7,317.2 L207,316.9 L207,316.7 L207.3,316.6 L207.6,316.8 L207.9,316.7 L208,317.2 L208.2,317.2 L208.6,316.9 L208.8,316.5 L209,315.9 L209.2,316.1 L209.4,316.1 L209.8,316.3 L210,316.7 L210.1,316.5 L210.8,316.7 L211,316.5 L211.1,316.8 L211.4,316.2 L211.7,316.5 L212,316.3 L212,316.1 L212.3,316.6 L212.6,316.3 L212.9,316.6 L213,317.1 L213.6,316.8 L213.9,317.2 L214,316.9 L214.2,316.6 L214.5,317.2 L214.8,317.2 L215,316.9 L215.1,317.1 L215.4,317 L215.7,316.6 L216,317.1 L216,316.9 L216.3,317 L216.6,316.6 L217,316.8 L217.7,316.7 L218,316.7 L218,316.1 L218.3,315.5 L218.4,315.6 L218.6,315.7 L218.7,315.2 L218.9,315.5 L219,315.6 L219.2,315.5 L219.2,315.4 L219.3,315.6 L219.5,315.1 L219.5,315.2 L219.6,315.7 L219.8,315.6 L219.8,315.6 L219.9,315.7 L220,316.2 L220.1,316.8 L220.2,316.3 L220.4,316.5 L220.7,316.8 L221,316.3 L221,316.6 L221.3,316.7 L221.6,317.1 L221.9,317.6 L222,317.6 L222.7,317.7 L223,317.5 L223.3,317.6 L223.6,317.9 L223.9,317.4 L224,317.5 L224.2,317.7 L224.5,318.3 L224.5,323.8 L224.2,323.8 L224,323.9 L223.9,323.8 L223.6,324.3 L223.3,323.9 L223,324.3 L222.7,324.6 L222,324.9 L221.9,325.1 L221.6,325.4 L221.3,324.9 L221,324.8 L221,325.3 L220.7,325.2 L220.4,324.8 L220.2,325.3 L220.1,325 L220,325.3 L219.9,325.4 L219.8,325.3 L219.8,325.4 L219.6,324.8 L219.5,325.4 L219.5,325.4 L219.3,324.8 L219.2,324.8 L219.2,324.9 L219,324.8 L218.9,324.9 L218.7,324.8 L218.6,325.2 L218.4,324.8 L218.3,325 L218,325.3 L218,325.4 L217.7,325.3 L217,325 L216.6,325 L216.3,325.5 L216,325.9 L216,325.8 L215.7,325.9 L215.4,326.1 L215.1,326.1 L215,326.5 L214.8,326.4 L214.5,326.1 L214.2,325.5 L214,325.7 L213.9,325.4 L213.6,325 L213,325 L212.9,325.3 L212.6,325.4 L212.3,324.9 L212,324.9 L212,325.4 L211.7,325.1 L211.4,325.4 L211.1,325.4 L211,325 L210.8,325.3 L210.1,325.1 L210,325.6 L209.8,325.9 L209.4,325.7 L209.2,326.4 L209,326.1 L208.8,326.3 L208.6,326 L208.2,325.8 L208,325.3 L207.9,325.4 L207.6,325.8 L207.3,326.1 L207,326.1 L207,326.3 L206.7,326.4 L206.4,326.1 L206.1,325.8 L206,325.6 L205.8,325.3 L205.5,324.8 L205,324.8 L204.7,325.4 L204.4,325 L204.1,325.4 L204,325.2 L203.8,324.9 L203.5,325.4 L203.2,325.3 L203,325.4 L202.9,325.2 L202.6,325.4 L202.4,325 L202.3,325.1 L202.2,325.4 L202,324.9 L201.8,325 L201.8,325 L201.6,325.1 L201.5,324.9 L201.2,325.1 L201.2,325.2 L201,325.3 L200.9,325.2 L200.9,324.9 L200.7,325 L200.6,324.9 L200.3,324.9 L200.3,324.8 L200.1,325 L200,325.1 L200,325.1 L199.7,324.8 L199.4,325.1 L199.3,325.4 L199.1,325 L199.1,325.3 L199,325.4 L198.8,325.4 L198.8,324.9 L198.4,325.4 L198.2,325 L198,325.2 L197.8,325.4 L197.7,325 L197.6,325.4 L197.4,325.6 L197.1,326.1 L197,325.8 L197,325.8 L196.8,326 L196.7,325.9 L196.5,325.8 L196.4,326.1 L196.2,325.5 L196.1,326.2 L196,325.7 L195.9,326.1 L195.8,326 L195.6,326 L195.5,325.8 L195.2,325.8 L195,325.3 L194.9,325.3 L194.6,325.4 L194.3,324.8 L194,324.8 L193.7,325.1 L193.4,325.3 L193.1,325 L193,324.8 L192.9,325.4 L192.8,325.2 L192.6,325.2 L192.5,324.9 L192.3,325.1 L192.2,324.9 L192,325.2 L191.9,324.7 L191.7,325.2 L191.6,324.9 L191.4,325.3 L191.3,324.8 L191.1,324.7 L191,324.9 L190.8,325.2 L190.5,325.6 L190.5,325.4 L190.2,326.2 L190.2,326.3 L190,325.9 L189.9,326.5 L189.6,326 L189.3,325.5 L189,325 L189,324.7 L188.2,325.2 L188,325.1 L187.8,324.8 L187.6,324.7 L187.2,325 L187,324.9 L186.9,324.7 L186.7,325.1 L186.5,325.2 L186.2,325.2 L186,324.7 L185.9,324.6 L185.6,324.8 L185.3,324.8 L185,324.6 L185,324.8 L184.7,324.6 L184.4,324.7 L184.1,324.9 L184,324.8 L183.8,325.1 L183.8,324.9 L183.6,325.1 L183.2,324.6 L183,324.6 L182.9,324.7 L182.7,325 L182.3,325.1 L182.1,324.6 L182,325.1 L181.8,324.7 L181.4,324.5 L181.2,324.8 L181,324.9 L180,324.8 L179,324.5 L178,325 L177,325 L176,324.6 L175.7,324.8 L175.4,325 L175.3,325.7 L175.1,325.7 L175,325.5 L174.8,325.7 L174.7,326 L174.5,325.6 L174.4,325.8 L174.2,325.3 L174.1,325.6 L174,325.2 L173.9,325 L173.8,324.6 L173.6,324.7 L173.5,324.9 L173.2,324.7 L173,324.4 L172,324.4 L171.5,324.6 L171.2,324.4 L171,324.8 L170.9,324.2 L170.6,324.8 L170.3,324.3 L170,324.4 L170,324.4 L169.7,324.3 L169.4,324.8 L169.1,324.3 L169,324.3 L168.8,325.1 L168.6,325.2 L168.2,325.9 L168.2,325.8 L168,325.2 L167.9,325.7 L167.9,325.6 L167.7,325.5 L167.6,325.1 L167.3,324.9 L167.3,325.3 L167.1,325.1 L167.1,324.8 L167,324.9 L166.8,325 L166.7,325.3 L166.5,324.7 L166.4,324.8 L166.2,325.1 L166.1,324.5 L166,324.7 L165.9,324.5 L165.8,324.2 L165.6,324.4 L165.5,324.6 L165.3,324.4 L165.1,324.2 L165,324.3 L165,324.5 L164.8,324.8 L164.7,325.2 L164.5,325.3 L164.4,325.3 L164.2,325.4 L164,325 L163.9,325.1 L163.6,324.6 L163.3,324.5 L163,324.3 L162,324.3 L161.6,324.7 L161.3,325.2 L161,325.9 L161,325.4 L160.7,325.6 L160.4,324.8 L160.1,323.9 L160,324.1 L159.9,324 L159.7,324.8 L159.6,325 L159.3,325.7 L159.3,325.6 L159.1,325.9 L159,326.6 L158.8,326.5 L158.7,326 L158.4,325.7 L158.4,325.7 L158.2,325.3 L158.1,325.1 L158,324.5 L157.8,324.4 L157.8,324.4 L157.6,324.3 L157,324.1 L156.7,324.6 L156.4,324.7 L156.1,325 L156,325.1 L155.9,325.5 L155.8,325.2 L155.6,325.6 L155.5,325.6 L155.3,325.4 L155.2,325.1 L155,324.6 L155,324.6 L154.9,324.4 L154.7,324.2 L154.7,324.4 L154.6,324.1 L154.4,324.2 L154.4,324.3 L154.1,323.8 L154.1,323.8 L154,324.4 L153.8,324 L153.8,323.7 L153.5,323.7 L153.5,324.1 L153.2,323.9 L153,324.1 L152.9,323.7 L152.6,323.8 L152.3,324.3 L152,323.7 L151.7,323.6 L151.4,323.8 L151.3,323.8 L151.3,323.8 L151.1,324.4 L151,324.2 L151,324.5 L151,324.4 L150.8,324.3 L150.7,324.3 L150.7,324.5 L150.5,325.1 L150.4,325.2 L150.4,324.7 L150.2,325 L150.1,325 L150.1,324.7 L150,324.9 L149.9,325 L149.8,325.2 L149.8,325.2 L149.6,325.2 L149.6,325.2 L149.5,324.9 L149.5,325 L149.3,325.2 L149.3,324.9 L149.2,325 L149.2,324.4 L149,324.5 L149,324.7 L149,324.4 L148.9,324.3 L148.9,324.3 L148.7,324.1 L148.6,324 L148.6,324.2 L148.4,324.1 L148.3,323.8 L148.3,323.7 L148.1,324 L148,323.6 L147.8,324 L147.7,323.5 L147.5,323.4 L147.3,323.9 L147.2,323.4 L147.1,323.9 L147,323.9 L146.8,323.4 L146.4,323.6 L146.2,323.3 L146,323.8 L145.8,323.6 L145.7,323.3 L145.4,323.3 L145.1,323.7 L145,323.7 L144.8,323.4 L144.5,323.1 L144.3,323.3 L144.2,323.6 L144,323.5 L144,323.4 L143.9,323.5 L143.7,324 L143.6,323.9 L143.4,324 L143.3,324.1 L143.1,324.5 L143,324.4 L143,324.1 L142.8,324.2 L142.5,323.8 L142.2,323.9 L142,323.3 L141.9,323.4 L141.6,323.1 L141,322.9 L140,322.9 Z" fill="#000"/>
<line x1="56.8" y1="460" x2="56.8" y2="495.6" stroke="#000" stroke-width="1.4"/>
<path d="M36.8,473.6 L37.8,473.8 L38,473.8 L38.3,473.2 L38.6,473.4 L38.8,473 L38.9,473.1 L39.2,472.8 L39.5,473.1 L39.8,473.2 L39.8,473.5 L40.8,473.7 L41,473.8 L41.3,473.8 L41.6,474 L41.8,474.1 L41.9,473.7 L42.2,473.8 L42.5,473.7 L42.8,474 L42.8,474.1 L43.1,473.7 L43.8,474 L44.8,473.8 L45.1,473.6 L45.4,473.9 L45.7,473.4 L45.8,473.2 L46,473.3 L46.3,473 L46.6,473.1 L46.8,473.2 L46.9,473.3 L47.2,473.5 L47.5,473.6 L47.8,473.7 L48.8,473.7 L49.8,473.7 L49.8,473.9 L50,473.6 L50.4,473.5 L50.6,473.2 L50.8,473.3 L51,473.5 L51.2,473.2 L51.5,473.5 L51.8,473.7 L52.8,473.9 L53.8,474 L53.9,474.1 L54.2,473.7 L54.5,473.8 L54.8,473.1 L54.8,473.6 L55.1,473.1 L55.4,473.4 L55.7,472.9 L55.8,473.5 L56,473.5 L56.3,473.8 L56.6,473.8 L56.8,473.7 L56.8,480.9 L56.6,480.9 L56.3,481.2 L56,481.3 L55.8,480.9 L55.7,480.8 L55.4,481.2 L55.1,480.9 L54.8,481.2 L54.8,481.3 L54.5,481.1 L54.2,481 L53.9,481.2 L53.8,481.3 L52.8,481 L51.8,481.3 L51.5,481.1 L51.2,480.9 L51,480.9 L50.8,481.3 L50.6,481.3 L50.4,481.2 L50,481.3 L49.8,481.1 L49.8,480.8 L48.8,481.2 L47.8,481.2 L47.5,481.1 L47.2,480.9 L46.9,480.9 L46.8,481.2 L46.6,481.1 L46.3,481.3 L46,481.4 L45.8,480.9 L45.7,481.1 L45.4,481 L45.1,480.8 L44.8,481.2 L43.8,481.3 L43.1,481.3 L42.8,481.1 L42.8,481.3 L42.5,481.4 L42.2,481.6 L41.9,481.6 L41.8,481.6 L41.6,481.6 L41.3,481.5 L41,481.3 L40.8,481.1 L39.8,480.9 L39.8,481.1 L39.5,481.2 L39.2,480.9 L38.9,481 L38.8,481.2 L38.6,481.2 L38.3,481.2 L38,480.9 L37.8,481.2 L36.8,481.5 Z" fill="#000"/>
<polygon points="56.4,460.2 58.6,460.2 60,468 56.4,472" fill="#000"/>
<path d="M57,460.7 L57,461.1 L57.1,461.6 L57.2,462.2 L57.3,462.9 L57.4,463.6 L57.5,464.3 L57.6,465.1 L57.7,465.9 L57.8,466.8 L57.9,467.6 L58.1,468.3 L58.2,469.1 L58.3,469.8 L58.5,470.4 L58.7,470.9 L59.1,472 L59.6,472.9 L60.1,473.7 L60.7,474.2 L61.4,474.6 L62.1,474.9 L63.2,474.9 L64.2,474.4 L64.9,473.7 L65.6,473 L66,472.4 L66.3,471.9 L66.7,471.3 L67.1,470.6 L67.4,469.8 L67.9,468.8 L68.1,468.3 L68.3,467.7 L68.6,467.1 L68.8,466.5 L69.1,465.9 L69.3,465.2 L69.6,464.5 L69.9,463.8 L70.1,463.1 L70.4,462.4 L70.7,461.6 L70.9,460.9 L71.2,460.1 L71.4,459.5 L71.6,458.8 L71.8,458.2 L72.1,457.5 L72.3,456.8 L72.5,456.1 L72.7,455.4 L72.9,454.7 L73.1,454 L73.3,453.3 L73.5,452.6 L73.7,451.9 L73.9,451.2 L74.1,450.5 L74.3,449.9 L74.5,449.3 L74.7,448.5 L74.9,447.8 L75.1,447 L75.3,446.3 L75.5,445.6 L75.7,444.9 L75.9,444.2 L76.1,443.5 L76.2,442.9 L76.4,442.2 L76.6,441.5 L76.7,440.9 L76.9,440.2 L77.1,439.5 L77.3,438.8 L77.5,438.1 L77.7,437.4 L77.9,436.7 L78,436 L78.2,435.3 L78.4,434.7 L78.6,434 L78.7,433.4 L78.9,432.8 L79.1,432.3 L79.3,431.5 L79.6,430.7 L79.8,430.1 L80,429.5 L80.3,428.8 L80.6,428.2 L80.8,427.4 L81.1,426.8 L81.3,426.1 L81.5,425.5 L81.7,424.8 L82,424.2 L82.2,423.5 L82.4,422.8 L82.7,422.2 L82.9,421.6 L83.1,421.1 L83.4,420.4 L83.7,419.7 L84.1,419 L84.4,418.3 L84.7,417.7 L85,417.2 L85.3,416.7 L85.4,416.3 L81.6,414.7 L81.4,415.1 L81.3,415.6 L81.1,416.2 L80.8,416.9 L80.6,417.6 L80.4,418.4 L80.1,419.2 L79.9,419.9 L79.7,420.6 L79.6,421.3 L79.4,421.9 L79.2,422.6 L79.1,423.3 L78.9,424 L78.8,424.7 L78.6,425.4 L78.5,426 L78.4,426.6 L78.2,427.4 L78,428.1 L77.8,428.7 L77.6,429.4 L77.4,430 L77.2,430.8 L76.9,431.7 L76.8,432.3 L76.7,432.9 L76.5,433.5 L76.4,434.2 L76.2,434.8 L76.1,435.5 L75.9,436.2 L75.8,436.9 L75.6,437.6 L75.4,438.3 L75.3,439.1 L75.1,439.8 L74.9,440.4 L74.7,441.1 L74.6,441.7 L74.4,442.4 L74.2,443.1 L74.1,443.7 L73.9,444.4 L73.7,445.1 L73.5,445.8 L73.3,446.5 L73.1,447.3 L72.9,448 L72.7,448.7 L72.5,449.4 L72.3,450 L72.1,450.7 L71.9,451.4 L71.7,452 L71.5,452.7 L71.3,453.4 L71.1,454.2 L70.9,454.9 L70.7,455.6 L70.5,456.2 L70.2,456.9 L70,457.6 L69.8,458.2 L69.6,458.9 L69.4,459.5 L69.1,460.2 L68.9,461 L68.6,461.7 L68.4,462.4 L68.1,463.1 L67.8,463.8 L67.6,464.5 L67.3,465.2 L67.1,465.8 L66.8,466.4 L66.6,467 L66.3,467.5 L66.1,468 L65.7,468.9 L65.3,469.7 L65,470.3 L64.7,470.8 L64.4,471.2 L64,471.6 L63.5,472.2 L63,472.6 L62.7,472.8 L62.5,472.7 L62.3,472.6 L62,472.5 L61.7,472.2 L61.3,471.8 L60.9,471.1 L60.5,470.3 L60.4,469.8 L60.3,469.3 L60.1,468.7 L60,468 L59.9,467.2 L59.7,466.5 L59.6,465.7 L59.5,464.9 L59.4,464.1 L59.3,463.3 L59.2,462.6 L59.1,461.9 L59,461.4 L58.9,460.8 L58.8,460.5 Z" fill="#000"/>
<path d="M80.8,416.9 L81.6,415.8 L81.5,414.5 L82.3,413.4 L82.2,412.1 L82.5,410.9 L82.5,409.6 L83.6,408.6 L83.4,407.1 L84.1,405.9 L84.4,404.5 L84.5,403 L84.8,401.7 L85.1,400.5 L86.3,399.5 L86.6,398.3 L86.5,397 L87.8,396 L87.6,394.6 L87.4,393.2 L87.6,391.8 L88.3,390.6 L88,389.1 L88.3,387.8 L88.6,386.6 L89,385.5 L89.4,384.3 L90.3,383.4 L90.4,382.1 L90.7,381 L90.8,379.6 L91.4,378.3 L91.6,377 L92.5,375.8 L92.8,374.5 L93.4,373.4 L93.7,372.1 L94.6,371.1 L95.3,370 L95.7,368.7 L96.7,367.6 L97.8,366.8 L99.5,366.7 L100.2,365.4 L101.3,364.7 L102.3,363.6 L103.9,363.2 L105.6,363.2 L106.9,362 L108,363.2 L109.3,363.5 L110.6,363.8 L111.7,364.6 L113.1,364.5 L114.5,364.6 L115.7,365.4 L117.1,365.5 L118.4,365.9 L119.9,365.5 L120.9,366.2 L122.5,365.7 L123.3,366.8 L124.4,367.5 L125.5,367.9 L126.3,369.2 L127.6,369.3 L129.1,368.9 L130,370 L131.1,370.7 L132,371.8 L132.9,372.7 L133.8,373.8 L135.4,373.6 L136.1,374.9 L137.9,374.6 L138.5,376 L140.1,376 L141,376.9 L142,385.1 L140.9,384.4 L140.1,383.4 L138.8,382.8 L137.4,382.9 L136.4,381.8 L134.9,381.9 L133.7,381.4 L132.4,381.1 L130.9,381.4 L130,380.1 L128.5,380.6 L127.6,379.6 L126.2,379.6 L125.3,378.7 L124.1,378.4 L123,377.8 L121.8,377.7 L120.6,376.9 L119.4,376.7 L118.1,376.6 L116.8,376.5 L115.6,376.4 L114.3,376.2 L113,376 L111.8,375.5 L110.5,375.8 L109.4,376.3 L108.4,377.4 L107.1,377.4 L106,378 L105.5,379.3 L104.3,379.8 L102.4,379.4 L102.4,381.2 L101.3,381.9 L101.2,383.2 L99.9,383.9 L99.6,385.2 L98.6,386.1 L98.7,387.6 L98.2,388.7 L97,389.5 L97.2,390.9 L96.6,392 L95.5,392.8 L95.1,394 L94.1,394.8 L93.9,396.1 L93.5,397.3 L93.2,398.5 L92.9,399.7 L91.6,400.5 L91.4,401.7 L90.9,403 L90.9,404.4 L91,405.9 L88.8,406.5 L88.8,407.9 L88.9,409.3 L88.4,410.5 L88,411.6 L87.5,412.8 L86.2,413.7 L87.4,415.5 L85.9,417.1 Z" fill="#000"/>
<path d="M140,376.8 L140.3,376.5 L140.6,375.8 L140.9,376.4 L141,376.4 L141.2,376.8 L141.5,377.2 L142,377.3 L142.3,377.6 L142.6,376.9 L142.9,377.1 L143,376.9 L143.2,376.8 L143.5,376.5 L143.8,376.6 L144,376.4 L144,376.8 L144.1,376.7 L144.3,376.6 L144.4,377 L144.6,376.7 L144.7,376.4 L144.9,376.6 L145,376.2 L145,376.4 L145.2,376.2 L145.5,376.2 L145.8,376.5 L146,377.1 L146.1,376.9 L146.4,377.4 L147,377.8 L147,378.1 L147.3,377.1 L147.6,376.9 L147.9,376.2 L148,376.6 L148.2,376.1 L148.5,377.2 L148.8,377.9 L149,378.4 L150,378.4 L151,378.3 L151.5,378.9 L151.8,377.7 L152,377.6 L152,377.3 L152.1,376.9 L152.3,376.9 L152.4,376.8 L152.6,377.2 L152.7,376.9 L152.9,377.7 L153,377.3 L153,377.4 L153.2,378.3 L153.3,378.7 L153.5,378.8 L153.8,378.5 L154,379 L154.1,378.8 L154.4,378.4 L154.8,378.1 L155,377.9 L155.1,378 L155.3,377.7 L155.7,377.7 L155.9,377.7 L156,377.9 L156.2,377.8 L156.2,377.8 L156.5,378.4 L156.6,378.6 L156.8,378.7 L156.8,378.4 L157,378.8 L157.1,378.7 L157.4,379.2 L157.7,378.8 L158,378.9 L158,379 L158.5,378.6 L158.8,378.3 L159,378.3 L159.1,378.1 L159.4,377.6 L159.7,377.9 L160,377.9 L160,377.8 L160.3,377.6 L160.5,378.2 L160.6,378.5 L160.8,378.1 L160.9,378.6 L161,378.4 L161.1,378.5 L161.2,378.8 L161.3,379.4 L161.4,379.1 L161.6,379.2 L161.7,379.4 L161.9,379.1 L162,379 L162,378.9 L162.2,379 L162.3,379.2 L162.3,379.4 L162.5,379.5 L162.6,379 L162.6,379.3 L162.8,379.1 L162.9,379.2 L162.9,378.9 L163,379.5 L163.1,379.4 L163.2,379.4 L163.4,379.3 L163.5,379.1 L163.8,379.5 L163.8,379.3 L164,379.2 L164.1,378.8 L164.1,378.6 L164.1,379 L164.4,378.4 L164.4,378.1 L164.4,378.3 L164.7,378 L164.7,377.8 L165,377.6 L165,378 L165,377.8 L165.3,377.9 L165.3,378 L165.6,377.8 L165.6,378.1 L165.9,378.8 L166,378.5 L166.2,379.1 L166.6,379.2 L166.9,379.3 L167,379.4 L167.2,379.2 L167.5,379.3 L167.8,379.3 L168,379.5 L168.1,379.4 L168.4,379.5 L168.7,379.3 L169,379.6 L169.6,379.8 L169.9,379.2 L170,379 L170.2,379.1 L170.5,378.6 L170.5,378.5 L170.8,378.1 L170.8,378.5 L171,377.9 L171.1,378.4 L171.1,378 L171.4,378.5 L171.4,377.9 L171.7,378.3 L171.7,378.2 L172,378.2 L172,377.8 L172.3,378.1 L172.3,378.1 L172.6,378.5 L172.6,378.6 L172.9,379.1 L173,378.8 L173.2,378.9 L173.5,379.5 L173.7,380.1 L174,379.4 L174.3,379 L174.6,378.8 L174.9,378.5 L175,378.3 L175.2,378.5 L175.4,378.2 L175.5,378.7 L175.7,378.5 L175.8,379.1 L176,379 L176.1,378.7 L176.3,378.5 L176.4,378.4 L176.6,378.8 L176.9,379.2 L177,379.5 L178,379.7 L179,379.7 L180,380.3 L181,380.3 L181,380.2 L181.3,379.7 L181.3,379.7 L181.6,379 L181.6,378.9 L181.9,378.3 L181.9,378.3 L182,378.8 L182.2,378.8 L182.2,378.7 L182.5,379.6 L182.5,379.5 L182.8,379.8 L182.8,380.1 L183,380 L183.1,380.4 L183.1,380.2 L183.4,380.3 L183.7,380.4 L184,380.3 L184.2,380.3 L184.3,380.5 L184.5,380.5 L184.6,380.4 L184.8,380.4 L185,380.1 L185.1,380.4 L185.4,380.6 L185.7,380.5 L185.8,380.6 L186,380 L186,380.1 L186.2,380.2 L186.3,380.7 L186.4,380.7 L186.6,380.2 L186.8,380.1 L186.9,380.3 L187,380.6 L187.1,380.6 L187.2,380.5 L187.3,380.7 L187.7,380.6 L187.9,380.1 L188,380.2 L189,380.7 L190,380.7 L190.7,380.8 L190.9,380 L191,380.1 L191,379.4 L191.2,379.2 L191.3,378.8 L191.6,379.2 L191.6,379.1 L191.8,379.1 L191.9,379.1 L191.9,379.1 L192,379.3 L192.2,379.1 L192.2,378.9 L192.2,379.4 L192.4,379.4 L192.5,379 L192.5,379.1 L192.8,379.3 L192.8,379.6 L193,379.5 L193.1,379.8 L193.1,379.5 L193.2,380.1 L193.4,380.1 L193.4,379.9 L193.5,380 L193.7,379.9 L193.7,379.7 L193.8,379.4 L194,379.1 L194,379 L194,379.3 L194.1,379.5 L194.3,378.8 L194.4,379.3 L194.4,379.2 L194.4,378.9 L194.7,379.1 L194.7,378.9 L194.7,379.4 L195,379.5 L195,379.8 L195,379.5 L195,379.6 L195.3,380 L195.3,380.1 L195.3,380 L195.6,380 L195.6,379.8 L195.6,379.7 L195.9,379.9 L195.9,380.4 L196,379.8 L196.2,380.6 L196.2,380.5 L196.5,380.6 L196.5,380.8 L196.8,380.7 L197,381 L197.4,381 L197.6,381.1 L197.7,380.7 L197.9,380.5 L198,380 L198,380.3 L198.2,379.6 L198.3,380 L198.5,379.8 L198.6,379.3 L198.8,378.9 L198.9,378.9 L199,379.1 L199.1,378.7 L199.2,378.9 L199.4,378.7 L199.5,378.8 L199.7,379 L199.8,379.7 L200,379.8 L200,379.7 L200.3,380.3 L200.6,380.3 L200.6,380.8 L200.9,380.7 L201,381 L201.2,380.8 L201.5,381.1 L201.8,380.5 L202,380.5 L202.1,381.1 L202.4,381.1 L202.7,380.7 L203,380.2 L203,380.5 L203.3,380.1 L203.3,380.1 L203.6,380.1 L203.6,379.6 L203.9,379.8 L203.9,380 L204,380 L204.2,380.1 L204.2,380.2 L204.5,379.7 L204.5,379.9 L204.8,379.6 L205,379.7 L205.1,379.6 L205.1,379.8 L205.4,379.7 L205.4,380.4 L205.7,380.6 L205.7,380 L206,380.3 L206,380.9 L206,380.9 L206.3,381.1 L206.3,381.2 L206.6,380.9 L206.9,381.2 L207,381.2 L207.2,380.7 L207.4,380.9 L207.5,380.8 L207.7,381 L207.8,380.7 L208,380.3 L208,380.6 L208.1,380.2 L208.3,380.3 L208.6,379.9 L208.9,379.9 L209,380 L209.2,379.7 L209.3,380.2 L209.5,380.4 L209.6,379.9 L209.8,380 L209.9,380.1 L210,379.9 L210.1,379.6 L210.2,379.7 L210.3,379.6 L210.4,380.1 L210.5,380 L210.6,379.6 L210.8,380.1 L210.9,380.5 L211,380.1 L211.1,379.9 L211.2,379.9 L211.4,380.1 L211.5,380.4 L211.7,380.7 L211.8,380.8 L212,380.6 L212,380 L212.1,380.4 L212.3,380.3 L212.6,379.9 L212.6,379.9 L212.9,380.2 L212.9,380.1 L213,380.5 L213.2,380.5 L213.2,380.3 L213.5,380.7 L213.5,380.3 L213.8,380.8 L213.8,380.6 L214,380.8 L214.1,381 L214.4,381.1 L214.7,381.3 L215,380.9 L216,380.8 L216.8,381.2 L217,381 L217.1,380.9 L217.3,380.4 L217.7,379.8 L217.9,380.3 L218,379.8 L218,380.1 L218.2,380 L218.3,380.3 L218.6,380.2 L218.6,380.5 L218.8,380.2 L218.9,379.7 L219,379.6 L219.2,379.8 L219.2,379.9 L219.3,379.9 L219.5,379.6 L219.6,379.4 L219.8,379.5 L219.9,380 L220,379.7 L220.1,380.1 L220.2,380.4 L220.4,380.3 L220.5,380.3 L220.7,380.7 L220.8,380.7 L221,380.8 L221.1,381 L222,381 L222,380.9 L222.3,380.8 L222.6,381.4 L222.9,381.1 L223,381.5 L223.2,381.5 L223.5,382 L223.6,382 L223.8,381.9 L223.9,381.5 L224,381.3 L224.1,381 L224.2,380.9 L224.2,380.9 L224.4,380.8 L224.5,380.7 L224.5,380.5 L224.7,380.6 L224.8,381.1 L224.8,380.9 L225,380.8 L225,380.9 L225.1,381.1 L225.1,381 L225.4,382 L225.4,382 L225.6,382.3 L225.6,388.9 L225.4,389.3 L225.4,389.2 L225.1,388.8 L225.1,388.8 L225,389.1 L225,389.2 L224.8,389.3 L224.8,389.2 L224.7,389.5 L224.5,389.7 L224.5,390.2 L224.4,389.9 L224.2,390.2 L224.2,390.5 L224.1,390.3 L224,390.3 L223.9,390.3 L223.8,390.3 L223.6,390.5 L223.5,390.5 L223.2,390.6 L223,390.7 L222.9,390.1 L222.6,390.1 L222.3,389.7 L222,390.1 L222,389.7 L221.1,389.6 L221,389.9 L220.8,389.9 L220.7,390 L220.5,389.8 L220.4,389.7 L220.2,389.8 L220.1,389.5 L220,389.9 L219.9,389.9 L219.8,389.5 L219.6,390.1 L219.5,389.9 L219.3,390.1 L219.2,389.8 L219.2,389.8 L219,389.5 L218.9,390.1 L218.8,389.5 L218.6,390.1 L218.6,389.6 L218.3,390.1 L218.2,390 L218,389.5 L218,390 L217.9,390.1 L217.7,390 L217.3,389.6 L217.1,389.6 L217,390 L216.8,390 L216,389.6 L215,389.9 L214.7,389.9 L214.4,390.3 L214.1,390.8 L214,391 L213.8,390.9 L213.8,391 L213.5,391.2 L213.5,391.2 L213.2,390.8 L213.2,390.6 L213,390.4 L212.9,390.5 L212.9,390.5 L212.6,389.7 L212.6,390 L212.3,389.7 L212.1,390.1 L212,389.7 L212,389.5 L211.8,389.8 L211.7,389.7 L211.5,390 L211.4,389.9 L211.2,389.9 L211.1,390.1 L211,389.6 L210.9,389.7 L210.8,389.6 L210.6,389.8 L210.5,389.8 L210.4,389.5 L210.3,389.9 L210.2,389.6 L210.1,390 L210,389.9 L209.9,389.5 L209.8,389.7 L209.6,389.7 L209.5,389.7 L209.3,389.5 L209.2,390.1 L209,389.8 L208.9,389.6 L208.6,389.6 L208.3,389.5 L208.1,389.7 L208,389.8 L208,389.9 L207.8,390 L207.7,389.9 L207.5,390.1 L207.4,390.1 L207.2,390.4 L207,390.2 L206.9,390.4 L206.6,390.6 L206.3,390.7 L206.3,390.1 L206,390.5 L206,390.3 L206,390.2 L205.7,389.9 L205.7,390.1 L205.4,390.1 L205.4,390.1 L205.1,389.8 L205.1,389.8 L205,390 L204.8,389.9 L204.5,390 L204.5,389.5 L204.2,389.7 L204.2,390.1 L204,389.8 L203.9,389.8 L203.9,390.1 L203.6,389.7 L203.6,390 L203.3,390 L203.3,390 L203,389.7 L203,389.8 L202.7,389.5 L202.4,389.9 L202.1,389.9 L202,390.4 L201.8,390.6 L201.5,390.5 L201.2,390.3 L201,390 L200.9,390.4 L200.6,390 L200.6,389.6 L200.3,390.1 L200,389.6 L200,389.5 L199.8,389.9 L199.7,389.8 L199.5,390.2 L199.4,390.9 L199.2,390.8 L199.1,391 L199,390.7 L198.9,391.1 L198.8,390.8 L198.6,391.4 L198.5,391.3 L198.3,391.1 L198.2,390.9 L198,390.4 L198,390.5 L197.9,390.6 L197.7,390.2 L197.6,389.9 L197.4,389.6 L197,389.9 L196.8,389.6 L196.5,390.3 L196.5,390.2 L196.2,390.7 L196.2,390.9 L196,390.8 L195.9,391 L195.9,390.8 L195.6,391.1 L195.6,391.2 L195.6,391 L195.3,390.7 L195.3,390.8 L195.3,391 L195,391 L195,390.4 L195,390.6 L195,390.7 L194.7,390.2 L194.7,390.6 L194.7,390.3 L194.4,390.1 L194.4,390.1 L194.4,390.1 L194.3,389.7 L194.1,390 L194,390.2 L194,390.5 L194,390.3 L193.8,390.7 L193.7,390.6 L193.7,390.7 L193.5,390.9 L193.4,390.7 L193.4,390.9 L193.2,391.2 L193.1,390.7 L193.1,390.8 L193,391 L192.8,391.2 L192.8,390.9 L192.5,390.4 L192.5,390.6 L192.4,390.7 L192.2,390.3 L192.2,390.4 L192.2,389.8 L192,389.5 L191.9,389.9 L191.9,389.9 L191.8,389.6 L191.6,390.1 L191.6,389.8 L191.3,390.1 L191.2,390 L191,389.9 L191,389.9 L190.9,389.9 L190.7,390.1 L190,390.1 L189,389.6 L188,389.7 L187.9,390.1 L187.7,390.4 L187.3,390.2 L187.2,390.3 L187.1,390.6 L187,390.8 L186.9,390.3 L186.8,390.4 L186.6,390.7 L186.4,390.6 L186.3,390.9 L186.2,390.9 L186,390.9 L186,390.9 L185.8,391 L185.7,390.9 L185.4,390.7 L185.1,391.1 L185,390.6 L184.8,390.6 L184.6,390.3 L184.5,390.4 L184.3,390.9 L184.2,391.1 L184,390.7 L183.7,391.1 L183.4,390.9 L183.1,390.1 L183.1,389.9 L183,390 L182.8,389.6 L182.8,390 L182.5,389.6 L182.5,389.9 L182.2,389.8 L182.2,389.8 L182,389.6 L181.9,389.9 L181.9,390 L181.6,389.6 L181.6,389.6 L181.3,389.6 L181.3,390.1 L181,389.9 L181,389.5 L180,389.8 L179,390 L178,389.7 L177,389.7 L176.9,389.6 L176.6,389.9 L176.4,390.1 L176.3,389.7 L176.1,390 L176,389.8 L175.8,389.5 L175.7,389.8 L175.5,390 L175.4,390.1 L175.2,389.8 L175,390.1 L174.9,389.9 L174.6,389.5 L174.3,389.8 L174,389.6 L173.7,389.5 L173.5,389.8 L173.2,389.7 L173,389.7 L172.9,390.1 L172.6,389.7 L172.6,389.6 L172.3,389.9 L172.3,389.6 L172,389.8 L172,389.6 L171.7,389.7 L171.7,389.9 L171.4,389.7 L171.4,389.4 L171.1,389.8 L171.1,389.7 L171,389.7 L170.8,389.9 L170.8,389.7 L170.5,389.6 L170.5,389.5 L170.2,389.5 L170,389.3 L169.9,389.6 L169.6,389.3 L169,389.6 L168.7,389.7 L168.4,390.2 L168.1,390.3 L168,390.5 L167.8,390.8 L167.5,390.6 L167.2,390.2 L167,390.1 L166.9,389.7 L166.6,389.2 L166.2,389.2 L166,389.5 L165.9,389.6 L165.6,389.2 L165.6,389.3 L165.3,389.3 L165.3,389.5 L165,389.5 L165,389.3 L165,389 L164.7,389.1 L164.7,389.5 L164.4,389.1 L164.4,389.1 L164.4,389.3 L164.1,389.8 L164.1,389.7 L164.1,389.7 L164,390.2 L163.8,390.5 L163.8,390 L163.5,390.2 L163.4,390.6 L163.2,390.3 L163.1,390.3 L163,390.7 L162.9,389.9 L162.9,390.5 L162.8,390.2 L162.6,389.8 L162.6,390 L162.5,390.1 L162.3,390.3 L162.3,389.8 L162.2,390.2 L162,390.5 L162,390.7 L161.9,390.6 L161.7,390.4 L161.6,390.5 L161.4,390.4 L161.3,390.2 L161.2,390.5 L161.1,389.9 L161,389.8 L160.9,389.7 L160.8,389.7 L160.6,389.6 L160.5,389.3 L160.3,389.3 L160,388.9 L160,389.3 L159.7,388.8 L159.4,389.3 L159.1,388.9 L159,389.1 L158.8,389 L158.5,389.1 L158,389.2 L158,389.2 L157.7,389.5 L157.4,389.6 L157.1,389.5 L157,389.6 L156.8,389.6 L156.8,389.4 L156.6,389 L156.5,389 L156.2,388.6 L156.2,388.6 L156,389 L155.9,389 L155.7,388.6 L155.3,388.7 L155.1,388.8 L155,388.6 L154.8,388.9 L154.4,388.8 L154.1,389.1 L154,389.5 L153.8,389.4 L153.5,389.6 L153.3,390.2 L153.2,389.8 L153,390.2 L153,389.9 L152.9,389.8 L152.7,389.9 L152.6,389.7 L152.4,389.2 L152.3,389.1 L152.1,388.7 L152,388.7 L152,388.6 L151.8,388.9 L151.5,388.9 L151,388.6 L150,387.9 L149,387.5 L148.8,388 L148.5,387.5 L148.2,387.6 L148,387.2 L147.9,387.8 L147.6,387.5 L147.3,387.4 L147,387.5 L147,386.9 L146.4,386.7 L146.1,387.2 L146,386.6 L145.8,386.6 L145.5,386.5 L145.2,386.7 L145,386.8 L145,386.6 L144.9,386.5 L144.7,386.5 L144.6,386.1 L144.4,386.3 L144.3,386.5 L144.1,386.5 L144,386.4 L144,386.5 L143.8,386.2 L143.5,386.2 L143.2,386 L143,386.1 L142.9,386.2 L142.6,385.5 L142.3,386 L142,385.9 L141.5,385.7 L141.2,385.1 L141,385.4 L140.9,385.5 L140.6,385.3 L140.3,385.2 L140,385.2 Z" fill="#000"/>
<text x="190.3" y="291.0" font-size="20" font-weight="bold">C</text>
<text x="236.8" y="320.8" font-size="14.4">1.</text>
<text x="236.5" y="389.2" font-size="14.4">2.</text>
<text transform="translate(361.30,387.9) rotate(-90.000) scale(1.130,1)" font-size="12">U46619</text>
<text transform="translate(361.30,331) rotate(-90.000) scale(1.243,1)" font-size="12">2</text>
<text transform="translate(361.30,319.5) rotate(-90.000) scale(1.230,1)" font-size="12">μM</text>
<line x1="362.0" y1="393" x2="362.0" y2="406.3" stroke="#000" stroke-width="1.6"/>
<polygon points="359.2,405.8 364.8,405.8 362,415" fill="#000"/>
<line x1="363.1" y1="419.6" x2="363.1" y2="441.8" stroke="#000" stroke-width="1.5"/>
<path d="M341.5,425.5 L342.1,426 L342.4,425.5 L342.5,425 L342.7,425.5 L343,424.9 L343.2,425 L343.3,424.8 L343.5,425 L343.5,424.9 L343.6,424.6 L343.8,424.9 L343.8,424.5 L343.9,424.9 L344.1,424.3 L344.1,424.9 L344.2,425 L344.4,424.8 L344.4,425 L344.5,424.8 L344.5,425.3 L344.7,425.2 L344.7,425.1 L345,426 L345.3,425.6 L345.5,425.6 L345.6,425.9 L345.7,425.6 L345.9,425.8 L346,425.4 L346.2,425.9 L346.3,425.5 L346.5,425.3 L346.6,426.1 L346.9,425.4 L347.2,426 L347.4,426.1 L347.5,425.8 L347.5,425.3 L347.7,425.3 L347.8,425.5 L348,425.6 L348.1,425.5 L348.3,425.2 L348.5,424 L348.6,423.6 L348.7,423.6 L348.9,422.9 L349,422.8 L349.2,423.2 L349.3,423.4 L349.5,423.3 L349.6,423.8 L349.8,424.6 L349.9,425.1 L350.1,425.4 L350.2,426 L350.5,425.5 L350.5,425.9 L350.8,425.9 L351.5,426 L352,425.7 L352.3,425 L352.5,424.7 L352.6,425 L352.8,424.6 L352.9,425 L352.9,424.5 L353.1,425.2 L353.1,424.8 L353.2,424.7 L353.4,424.7 L353.4,424.9 L353.5,424.9 L353.5,424.8 L353.7,424.4 L353.8,424.6 L354,424.9 L354.1,424.6 L354.3,425.1 L354.4,424.4 L354.5,425.3 L354.6,425.4 L354.6,425.1 L354.7,425.2 L354.8,425.4 L354.9,425.8 L354.9,425.1 L355,425.5 L355.1,425.2 L355.2,425 L355.3,425.2 L355.4,425.1 L355.5,424.6 L355.6,425 L355.7,424.9 L355.9,425.1 L356,425.3 L356.2,425.1 L356.3,425.7 L356.5,425.7 L356.6,426.1 L356.8,425.6 L356.9,426 L357.1,425.8 L357.4,425.5 L357.5,425.6 L357.7,424.9 L358,425.2 L358.1,425.2 L358.3,425.3 L358.4,425.1 L358.5,424.9 L358.6,425 L358.7,425.2 L358.9,424.7 L359,424.5 L359.2,424.8 L359.3,424.9 L359.5,425.2 L359.6,424.9 L359.9,425.9 L360.2,425.7 L360.5,425.7 L360.5,425 L360.6,425.6 L360.8,425.1 L360.9,425.3 L361.1,425.1 L361.2,425 L361.4,424.4 L361.5,424.7 L361.5,424.6 L361.6,425.1 L361.7,424.7 L361.8,424.7 L361.9,424.6 L362,424.6 L362.1,425.3 L362.2,425.3 L362.4,424.9 L362.5,425.1 L362.5,424.9 L362.7,424.8 L362.7,424.7 L362.7,431.3 L362.7,432 L362.5,431.8 L362.5,431.9 L362.4,431.5 L362.2,431.3 L362.1,432 L362,431.9 L361.9,431.7 L361.8,432 L361.7,431.7 L361.6,431.6 L361.5,431.5 L361.5,431.9 L361.4,431.3 L361.2,431.6 L361.1,431.8 L360.9,432 L360.8,432 L360.6,431.9 L360.5,431.6 L360.5,431.8 L360.2,431.4 L359.9,431.4 L359.6,432 L359.5,431.7 L359.3,431.4 L359.2,431.3 L359,431.3 L358.9,431.8 L358.7,431.9 L358.6,431.4 L358.5,431.3 L358.4,432 L358.3,431.7 L358.1,431.7 L358,431.5 L357.7,431.8 L357.5,431.5 L357.4,431.4 L357.1,431.9 L356.9,431.8 L356.8,431.8 L356.6,432 L356.5,432.6 L356.3,432.8 L356.2,432.7 L356,432.9 L355.9,432.6 L355.7,432.1 L355.6,432.6 L355.5,432 L355.4,432.4 L355.3,432.5 L355.2,432.2 L355.1,431.7 L355,431.8 L354.9,431.8 L354.9,431.8 L354.8,431.9 L354.7,432.3 L354.6,431.9 L354.6,432.2 L354.5,432.5 L354.4,432.2 L354.3,432.4 L354.1,432.7 L354,432.6 L353.8,431.9 L353.7,432 L353.5,431.9 L353.5,431.8 L353.4,432.4 L353.4,431.7 L353.2,431.6 L353.1,431.9 L353.1,431.7 L352.9,431.9 L352.9,431.4 L352.8,431.7 L352.6,432 L352.5,431.6 L352.3,432 L352,431.7 L351.5,431.7 L350.8,431.3 L350.5,431.8 L350.5,432 L350.2,432 L350.1,432.5 L349.9,432.7 L349.8,432.6 L349.6,432.5 L349.5,432.3 L349.3,432.3 L349.2,432.6 L349,432.3 L348.9,432.7 L348.7,432.7 L348.6,432.3 L348.5,432.6 L348.3,432.2 L348.1,432.2 L348,432.1 L347.8,432 L347.7,432.3 L347.5,432.5 L347.5,432.6 L347.4,432.5 L347.2,432.5 L346.9,432.4 L346.6,432.5 L346.5,432.8 L346.3,432.2 L346.2,432.2 L346,432.1 L345.9,431.9 L345.7,432.3 L345.6,432.2 L345.5,433 L345.3,433.2 L345,433.3 L344.7,433.2 L344.7,433.2 L344.5,433 L344.5,433.1 L344.4,432.8 L344.4,432.4 L344.2,432.2 L344.1,431.8 L344.1,431.9 L343.9,432 L343.8,432.1 L343.8,431.6 L343.6,431.4 L343.5,432 L343.5,431.5 L343.3,431.4 L343.2,432.1 L343,431.7 L342.7,431.5 L342.5,431.8 L342.4,431.6 L342.1,431.6 L341.5,431.9 Z" fill="#000"/>
<path d="M362.7,420.3 L362.8,420.8 L362.9,421.5 L363,422.2 L363.1,423.1 L363.3,423.9 L363.4,424.8 L363.5,425.6 L363.6,426.2 L363.8,427.2 L363.9,428.2 L364.1,429 L365,430 L366.5,429.7 L367.3,428.8 L367.9,427.4 L368.1,426.9 L368.3,426.3 L368.5,425.7 L368.7,425.1 L368.9,424.4 L369.1,423.7 L369.3,422.9 L369.5,422.2 L369.7,421.5 L369.8,420.8 L370,420.2 L370.2,419.4 L370.4,418.7 L370.6,418 L370.7,417.3 L370.9,416.6 L371.1,415.9 L371.2,415.2 L371.4,414.5 L371.6,413.8 L371.7,413.1 L371.9,412.5 L372,411.8 L372.2,411.2 L372.3,410.5 L372.5,409.9 L372.7,409.2 L372.8,408.6 L373,407.9 L373.1,407.3 L373.3,406.6 L373.4,405.9 L373.6,405.3 L373.7,404.7 L373.8,404 L374,403.4 L374.1,402.7 L374.3,402 L374.4,401.3 L374.6,400.6 L374.7,399.9 L374.9,399.3 L375,398.6 L375.2,397.9 L375.3,397.2 L375.5,396.4 L375.6,395.7 L375.8,395 L375.9,394.3 L376.1,393.6 L376.2,393 L376.4,392.3 L376.5,391.6 L376.7,390.9 L376.9,390.2 L377,389.6 L377.2,388.9 L377.4,388.3 L377.5,387.6 L377.7,386.9 L377.9,386.2 L378.1,385.4 L378.2,384.7 L378.4,384.1 L378.5,383.4 L378.7,382.7 L378.8,381.9 L379,381.2 L379.2,380.4 L379.4,379.7 L379.5,379 L379.7,378.3 L379.8,377.6 L380,377 L380.1,376.4 L380.4,375.6 L380.6,374.8 L380.8,374 L381,373.3 L381.3,372.6 L381.5,372 L381.6,371.4 L381.8,370.9 L381.9,370.5 L378.7,369.5 L378.6,369.9 L378.4,370.4 L378.2,370.9 L378,371.6 L377.8,372.3 L377.6,373.1 L377.3,373.9 L377.1,374.7 L376.9,375.6 L376.7,376.2 L376.5,376.8 L376.4,377.5 L376.2,378.2 L376,378.9 L375.9,379.7 L375.7,380.4 L375.5,381.2 L375.4,381.9 L375.2,382.6 L375,383.3 L374.9,384 L374.7,384.6 L374.6,385.4 L374.4,386.1 L374.2,386.8 L374.1,387.5 L373.9,388.2 L373.8,388.8 L373.7,389.5 L373.5,390.2 L373.4,390.9 L373.2,391.7 L373.1,392.3 L373,393 L372.9,393.7 L372.7,394.4 L372.6,395.2 L372.5,395.9 L372.4,396.6 L372.3,397.3 L372.2,398 L372,398.7 L371.9,399.4 L371.8,400 L371.7,400.8 L371.6,401.5 L371.5,402.2 L371.4,402.9 L371.3,403.5 L371.1,404.2 L371,404.8 L370.9,405.4 L370.8,406.1 L370.7,406.7 L370.5,407.4 L370.4,408 L370.3,408.7 L370.1,409.3 L370,410 L369.8,410.6 L369.7,411.3 L369.5,411.9 L369.4,412.6 L369.2,413.2 L369.1,413.9 L368.9,414.7 L368.8,415.4 L368.6,416.1 L368.5,416.7 L368.3,417.5 L368.1,418.2 L368,418.9 L367.8,419.6 L367.6,420.3 L367.5,420.9 L367.3,421.6 L367.1,422.4 L366.9,423.1 L366.7,423.8 L366.5,424.5 L366.4,425.1 L366.2,425.7 L366,426.2 L365.9,426.6 L365.4,427.6 L365.1,427.9 L365.8,427.8 L366.2,428.1 L366,427.7 L365.8,426.8 L365.6,425.8 L365.4,425.2 L365.3,424.4 L365.1,423.6 L365,422.8 L364.8,421.9 L364.7,421.2 L364.6,420.5 L364.5,420.1 Z" fill="#000"/>
<path d="M375.7,380.9 L376,379.7 L376.1,378.4 L376.8,377.3 L377.3,376.1 L377,374.8 L377.2,373.5 L377.3,372.3 L378.1,371.1 L377.8,369.7 L378.5,368.6 L378.9,367.3 L379,365.9 L379.7,364.8 L380.4,363.7 L380.3,362.4 L381.1,361.3 L380.6,360 L381.3,358.9 L381.8,357.7 L381.5,356.4 L381.9,355.2 L382.9,354.2 L382.7,352.8 L383.7,351.8 L384.1,350.6 L384.2,349.2 L384.1,347.9 L384.5,346.6 L385,345.4 L385.7,344.2 L386.4,343 L386.9,341.6 L388.1,340.8 L388.7,339.5 L389.3,338.4 L389.9,337.2 L391.2,336.3 L391.3,335.1 L391.4,333.8 L392.4,333.4 L394.2,332.6 L394.7,334.1 L395.2,335.5 L396.8,335.5 L398,336.4 L399.2,336.9 L399.8,338 L400.4,339.7 L401.9,340.3 L403.2,341.2 L403.8,342.7 L404.5,344.1 L405.2,345.4 L405.7,346.7 L406,348.2 L406.6,349.3 L406.8,350.6 L407.8,351.5 L407.8,353 L409,354 L409.2,355.3 L409.6,356.7 L410.7,357.6 L410.8,359.1 L411.4,360.2 L411.9,361.5 L412.6,362.6 L412.9,363.9 L408.2,364.1 L407.6,363 L407.9,361.6 L407.1,360.5 L406.5,359.4 L406.7,358.1 L405.8,357.1 L405,355.8 L404.7,354.1 L403.6,353.2 L401.3,353 L400.3,354.1 L400.2,355.3 L399.7,356.3 L399.4,355.3 L399.2,354 L398.6,352.6 L397.7,352.7 L396.4,352.5 L395.9,354 L395.8,355.5 L395.7,356.6 L395.4,355.5 L395.8,353.9 L394.9,352.9 L393.6,352.9 L392.2,352.7 L390.8,352.3 L389.3,353.1 L387.9,354 L386.9,354.8 L386.3,356 L385.8,357.2 L386.3,358.9 L384.7,359.7 L384.5,361 L384.2,362.4 L383.3,363.5 L383.5,365 L382.9,366.2 L381.9,367.3 L381.9,368.7 L380.9,369.8 L380.9,371.2 L380.4,372.5 L380.1,373.8 L379.7,375 L380,376.4 L378.8,377.3 L378.9,378.7 L378.4,379.8 L378.3,381.1 Z" fill="#000"/>
<path d="M408.4,362.1 L408.5,362.5 L408.7,362.9 L408.8,363.5 L409,364.1 L409.2,364.8 L409.5,365.6 L409.7,366.3 L410,367.1 L410.2,367.9 L410.5,368.7 L410.7,369.5 L411,370.2 L411.2,370.9 L411.4,371.5 L411.7,372.3 L411.9,373 L412.2,373.6 L412.4,374.3 L412.6,374.9 L412.9,375.5 L413.1,376.2 L413.4,376.8 L413.7,377.4 L413.9,378 L414.2,378.6 L414.5,379.3 L414.8,379.9 L415.1,380.6 L415.4,381.2 L415.8,381.8 L416.1,382.5 L416.4,383.1 L416.7,383.7 L417.1,384.4 L417.4,385 L417.7,385.6 L418,386.3 L418.4,386.9 L418.7,387.5 L419,388.1 L419.4,388.8 L419.7,389.4 L420,390 L420.3,390.6 L420.7,391.3 L421,391.9 L421.3,392.5 L421.6,393.1 L422,393.7 L422.3,394.4 L422.6,395 L422.9,395.6 L423.2,396.3 L423.6,396.9 L423.9,397.6 L424.2,398.2 L424.5,398.8 L424.9,399.5 L425.2,400.1 L425.5,400.7 L425.8,401.4 L426.1,402 L426.5,402.7 L426.8,403.3 L427.2,404 L427.5,404.6 L427.9,405.3 L428.3,406 L428.8,406.6 L429.1,407.2 L429.5,407.8 L430,408.3 L430.4,408.9 L430.8,409.4 L431.3,410 L431.7,410.5 L432.2,411 L432.6,411.6 L433.1,412.1 L433.6,412.7 L434.1,413.2 L434.5,413.7 L435,414.2 L435.4,414.7 L435.9,415.2 L436.4,415.7 L436.8,416.2 L437.3,416.7 L437.8,417.2 L438.3,417.7 L438.8,418.2 L439.3,418.7 L439.9,419.2 L440.4,419.7 L441,420.2 L441.6,420.6 L442.1,421.1 L442.7,421.5 L443.3,421.9 L443.9,422.3 L444.5,422.6 L445.1,423 L445.7,423.4 L446.3,423.7 L447,424.1 L447.6,424.4 L448.2,424.8 L448.9,425.1 L449.5,425.4 L450.1,425.8 L450.7,426.1 L451.3,426.4 L452,426.7 L452.6,427 L453.3,427.4 L454,427.7 L454.6,428 L455.3,428.3 L455.9,428.5 L456.6,428.8 L457.2,429.1 L457.9,429.3 L458.5,429.6 L459.2,429.8 L459.8,430 L460.5,430.3 L461.2,430.5 L461.9,430.7 L462.6,430.9 L463.3,431.1 L464,431.3 L464.7,431.5 L465.4,431.7 L466.1,431.8 L466.8,432 L467.5,432.1 L468.2,432.2 L468.9,432.3 L469.6,432.4 L470.3,432.5 L471,432.6 L471.7,432.7 L472.4,432.7 L473.1,432.7 L473.8,432.8 L474.5,432.8 L475.2,432.8 L475.9,432.9 L476.6,432.9 L477.3,432.9 L478,432.9 L478.7,433 L479.5,433 L480.2,433 L481,433.1 L481.8,433.1 L482.6,433.1 L483.4,433.2 L484.2,433.2 L485,433.2 L485.7,433.3 L486.4,433.3 L487,433.3 L487.6,433.3 L488.1,433.3 L488.5,433.3 L488.5,431.3 L488.1,431.2 L487.7,431.2 L487.1,431.2 L486.5,431.2 L485.8,431.2 L485.1,431.1 L484.3,431.1 L483.5,431.1 L482.7,431 L481.9,431 L481.1,431 L480.3,431 L479.5,430.9 L478.8,430.9 L478.2,430.9 L477.4,430.8 L476.7,430.8 L476,430.8 L475.3,430.7 L474.6,430.7 L473.9,430.7 L473.2,430.7 L472.6,430.6 L471.9,430.6 L471.2,430.5 L470.6,430.4 L469.9,430.4 L469.3,430.3 L468.6,430.1 L467.9,430 L467.3,429.9 L466.6,429.7 L465.9,429.6 L465.3,429.4 L464.6,429.2 L463.9,429 L463.3,428.8 L462.6,428.6 L461.9,428.4 L461.2,428.2 L460.6,428 L459.9,427.7 L459.3,427.5 L458.7,427.3 L458,427 L457.4,426.8 L456.8,426.5 L456.1,426.2 L455.5,426 L454.9,425.7 L454.2,425.4 L453.6,425.1 L453,424.8 L452.3,424.5 L451.7,424.1 L451.1,423.8 L450.5,423.5 L449.9,423.2 L449.3,422.8 L448.7,422.5 L448.1,422.1 L447.5,421.8 L446.9,421.4 L446.3,421.1 L445.7,420.7 L445.2,420.3 L444.6,419.9 L444.1,419.5 L443.5,419.2 L443,418.8 L442.5,418.3 L442,417.9 L441.5,417.4 L441.1,416.9 L440.6,416.5 L440.1,416 L439.7,415.5 L439.3,415 L438.8,414.4 L438.4,413.9 L437.9,413.4 L437.5,412.9 L437.1,412.4 L436.7,411.9 L436.2,411.3 L435.7,410.8 L435.3,410.3 L434.8,409.7 L434.4,409.2 L434,408.7 L433.5,408.1 L433.1,407.6 L432.7,407.1 L432.3,406.5 L432,406 L431.6,405.5 L431.2,405 L430.9,404.4 L430.5,403.8 L430.1,403.1 L429.8,402.5 L429.5,401.9 L429.1,401.3 L428.8,400.7 L428.5,400 L428.2,399.4 L427.9,398.8 L427.5,398.1 L427.2,397.5 L426.9,396.8 L426.6,396.2 L426.3,395.6 L425.9,394.9 L425.6,394.3 L425.3,393.7 L425,393 L424.7,392.4 L424.4,391.7 L424.1,391.1 L423.8,390.5 L423.5,389.8 L423.1,389.2 L422.8,388.6 L422.5,387.9 L422.2,387.3 L421.9,386.7 L421.6,386.1 L421.3,385.4 L421,384.8 L420.7,384.2 L420.4,383.5 L420.1,382.9 L419.8,382.3 L419.5,381.6 L419.2,381 L418.9,380.3 L418.7,379.7 L418.4,379.1 L418.1,378.4 L417.9,377.8 L417.6,377.2 L417.3,376.5 L417.1,375.9 L416.9,375.3 L416.6,374.8 L416.4,374.2 L416.2,373.6 L415.9,373 L415.7,372.3 L415.5,371.7 L415.2,371 L415,370.3 L414.8,369.7 L414.6,369 L414.4,368.3 L414.1,367.5 L413.9,366.8 L413.7,366 L413.5,365.2 L413.2,364.4 L413,363.7 L412.8,363 L412.6,362.4 L412.5,361.8 L412.3,361.3 L412.2,360.9 Z" fill="#000"/>
<line x1="363.1" y1="466.7" x2="363.1" y2="494.4" stroke="#000" stroke-width="1.5"/>
<path d="M345.2,476.4 L346.2,476.5 L346.6,476.1 L346.9,475.2 L347.2,474 L347.5,473.2 L347.8,473.1 L348.1,472.8 L348.2,472.9 L348.4,473.6 L348.7,474.3 L349,475.7 L349.2,476.4 L350.2,476.4 L350.6,476.1 L350.9,475.6 L350.9,475.7 L351.2,474.9 L351.2,475.4 L351.5,474.8 L351.5,474.7 L351.8,474.3 L351.8,474.6 L352.1,474.7 L352.1,474.6 L352.2,475 L352.4,474.9 L352.4,474.6 L352.7,475.1 L352.7,475.5 L353,475.6 L353,475.7 L353.2,475.5 L353.3,476 L353.4,476.1 L353.6,476 L353.7,476 L353.9,476.2 L354,476.1 L354.2,476.1 L354.2,475.8 L354.3,476.1 L354.6,476.5 L354.6,476 L354.9,475.7 L354.9,475.7 L355.1,476.1 L355.2,475.7 L355.2,475.8 L355.4,475.8 L355.5,476 L355.8,476.5 L355.8,476.1 L356.1,476 L356.1,476 L356.2,476.1 L356.4,476 L356.4,476.3 L356.6,476.4 L356.6,476.2 L356.9,475.7 L357.2,475.5 L357.5,475.4 L357.8,474.6 L358.1,474.7 L358.2,475 L358.4,475.1 L358.7,475.4 L358.8,475.5 L359,475.9 L359.1,475.6 L359.2,475.7 L359.3,475.7 L359.4,475.2 L359.4,475.4 L359.6,475.1 L359.7,475.2 L359.9,474.6 L360,475.4 L360.2,475.4 L360.2,475.6 L360.3,475.8 L360.6,475.6 L360.6,476 L360.9,475.7 L361.1,476.1 L361.2,476.4 L361.4,475.8 L361.5,475.9 L361.8,475.5 L361.8,475.5 L362,475.3 L362.1,475.2 L362.2,475.8 L362.3,475.6 L362.4,475.3 L362.6,475.4 L362.7,475.3 L362.9,475.2 L363,475.1 L363.1,475.4 L363.1,483.4 L363,483.6 L362.9,483.7 L362.7,483.4 L362.6,483.8 L362.4,483.6 L362.3,483 L362.2,483.6 L362.1,483.2 L362,483.1 L361.8,483.4 L361.8,483.5 L361.5,483.2 L361.4,483.4 L361.2,483.8 L361.1,483.7 L360.9,483.8 L360.6,483.9 L360.6,484.2 L360.3,483.4 L360.2,484.2 L360.2,484 L360,483.7 L359.9,483.3 L359.7,483.1 L359.6,483.4 L359.4,483 L359.4,483.3 L359.3,483.1 L359.2,482.7 L359.1,483.2 L359,482.7 L358.8,482.9 L358.7,483.4 L358.4,483.3 L358.2,483.3 L358.1,483.1 L357.8,483.1 L357.5,483.3 L357.2,482.8 L356.9,482.7 L356.6,483.4 L356.6,483.5 L356.4,483.2 L356.4,483.4 L356.2,483.1 L356.1,483.8 L356.1,483.7 L355.8,483.5 L355.8,484.1 L355.5,484.1 L355.4,483.6 L355.2,483.7 L355.2,483.8 L355.1,483.8 L354.9,484.1 L354.9,484.2 L354.6,483.8 L354.6,483.8 L354.3,483.4 L354.2,484 L354.2,484 L354,483.2 L353.9,483.7 L353.7,483.7 L353.6,483.7 L353.4,483.3 L353.3,483 L353.2,483.4 L353,483.4 L353,483.4 L352.7,483.6 L352.7,483.6 L352.4,483.8 L352.4,483.8 L352.2,484.1 L352.1,483.8 L352.1,483.9 L351.8,483.7 L351.8,483.9 L351.5,483.7 L351.5,483.8 L351.2,483.2 L351.2,483.5 L350.9,483.3 L350.9,483.1 L350.6,482.9 L350.2,482.8 L349.2,482.8 L349,483.1 L348.7,482.8 L348.4,483.3 L348.2,483.5 L348.1,483.5 L347.8,483.3 L347.5,482.9 L347.2,483.3 L346.9,483.3 L346.6,483.1 L346.2,483 L345.2,483.2 Z" fill="#000"/>
<path d="M362.7,467.4 L362.8,467.9 L362.9,468.6 L363.1,469.4 L363.2,470.2 L363.4,471.1 L363.5,471.8 L363.8,472.8 L364.1,473.8 L364.5,474.7 L365.6,475.6 L367.2,475.3 L367.8,474.5 L368.2,473.7 L368.5,472.9 L368.7,472.1 L369,471.4 L369.2,470.7 L369.4,470.1 L369.7,469.4 L370,468.3 L370.2,467.8 L370.3,467.2 L370.5,466.6 L370.7,466 L370.9,465.3 L371.1,464.6 L371.4,463.8 L371.6,463 L371.8,462.3 L372,461.5 L372.2,460.7 L372.4,460.1 L372.5,459.5 L372.7,458.9 L372.8,458.2 L373,457.6 L373.1,457 L373.3,456.3 L373.4,455.7 L373.6,455 L373.7,454.3 L373.9,453.6 L374,452.9 L374.2,452.2 L374.3,451.4 L374.5,450.7 L374.6,450.1 L374.7,449.4 L374.8,448.7 L375,448 L375.1,447.3 L375.2,446.6 L375.3,445.9 L375.4,445.1 L375.5,444.4 L375.6,443.7 L375.7,443 L375.8,442.2 L376,441.5 L376.1,440.8 L376.2,440.2 L376.3,439.5 L376.4,438.8 L376.5,438.2 L376.7,437.5 L376.8,436.7 L377,436 L377.1,435.3 L377.3,434.7 L377.4,434 L377.6,433.3 L377.7,432.7 L377.9,432 L378,431.4 L378.2,430.8 L378.3,430.1 L378.5,429.5 L378.6,428.9 L378.8,428.3 L379,427.6 L379.1,426.8 L379.3,426 L379.5,425.3 L379.7,424.5 L379.9,423.8 L380.1,423.1 L380.3,422.4 L380.5,421.8 L380.6,421.3 L380.8,420.8 L380.9,420.4 L377.1,419.6 L377.1,420 L377,420.4 L376.9,421 L376.8,421.6 L376.6,422.3 L376.5,423 L376.3,423.7 L376.2,424.5 L376.1,425.3 L375.9,426.1 L375.8,426.9 L375.6,427.7 L375.5,428.3 L375.4,428.9 L375.3,429.5 L375.2,430.2 L375.1,430.8 L375,431.5 L374.9,432.1 L374.8,432.8 L374.7,433.5 L374.6,434.2 L374.5,434.9 L374.4,435.6 L374.3,436.3 L374.2,437 L374.1,437.8 L374,438.4 L373.9,439.1 L373.8,439.8 L373.7,440.5 L373.6,441.2 L373.5,441.9 L373.4,442.6 L373.3,443.4 L373.2,444.1 L373.1,444.8 L373,445.5 L372.9,446.3 L372.8,447 L372.7,447.7 L372.6,448.4 L372.5,449 L372.4,449.7 L372.3,450.3 L372.2,451 L372.1,451.8 L371.9,452.5 L371.8,453.2 L371.6,453.9 L371.5,454.5 L371.4,455.2 L371.2,455.8 L371.1,456.5 L370.9,457.1 L370.8,457.7 L370.6,458.4 L370.5,459 L370.3,459.6 L370.2,460.1 L370,460.9 L369.8,461.7 L369.6,462.5 L369.3,463.2 L369.1,464 L368.9,464.7 L368.7,465.4 L368.5,466 L368.3,466.6 L368.2,467.2 L368,467.7 L367.7,468.8 L367.5,469.4 L367.3,470 L367,470.6 L366.7,471.4 L366.5,472.1 L366.2,472.9 L365.9,473.5 L366,473.5 L366.3,473.5 L366.3,473.3 L366.1,473 L365.8,472.2 L365.5,471.2 L365.3,470.6 L365.1,469.8 L364.9,469 L364.7,468.2 L364.6,467.5 L364.5,467 Z" fill="#000"/>
<path d="M376.9,428 L377.1,426.8 L377.3,425.6 L377.4,424.3 L377.5,423.1 L377.9,421.9 L378.4,420.7 L378.7,419.5 L378.5,418.2 L379.1,417.1 L378.7,415.8 L379.4,414.6 L379.4,413.1 L379.8,411.8 L380.2,410.6 L380.7,409.5 L380,408 L381.5,407.1 L381.5,405.9 L381.5,404.6 L382.8,403.7 L383.3,402.5 L382.3,401 L383.1,399.9 L382.8,398.6 L383.8,397.6 L384.1,396.4 L384.3,395.2 L384.3,393.7 L384.5,392.3 L384.7,390.9 L384.4,389.4 L385.4,388.2 L385.6,386.8 L386,385.4 L387.6,384.5 L386.8,382.8 L387.3,381.5 L387.5,379.8 L388.1,377.9 L389.6,378.5 L390,380 L390.3,381.4 L392.5,381.1 L393.9,379.4 L394.8,380.1 L396.1,381 L396.3,382.5 L397,383.9 L397.7,384.9 L398.4,386 L399.2,387.1 L399.9,388.4 L400.8,389.7 L401.3,391.2 L402,392.5 L402.3,393.9 L402.9,395.2 L403.6,396.4 L403.9,397.7 L404.2,399 L404.3,400.4 L405.3,401.4 L401.4,403.1 L400,401.4 L398.7,400.4 L397.7,399.2 L396.1,399.3 L395.1,398.5 L393.9,398.4 L393,397.3 L391.1,397.4 L389,398.1 L387.3,399.3 L387.1,400.6 L386.2,401.6 L386.2,402.9 L385.7,404 L385.7,405.3 L385.1,406.6 L384.4,407.8 L384.3,409.2 L384.3,410.5 L383.4,411.7 L383.8,413.1 L383.5,414.4 L383,415.6 L382.4,416.8 L381.5,417.9 L381.4,419.3 L381.4,420.7 L381.5,422.1 L380.8,423.3 L380.6,424.7 L381,426.2 L380.7,427.8 L379.6,429.1 Z" fill="#000"/>
<path d="M400.7,402.2 L401,402.5 L401.4,403 L401.8,403.6 L402.2,404.2 L402.7,404.9 L402.9,405.3 L403.2,405.8 L403.5,406.4 L403.9,407 L404.2,407.6 L404.5,408.2 L404.8,408.9 L405.1,409.5 L405.3,410 L405.6,410.7 L405.8,411.3 L406,412 L406.3,412.6 L406.5,413.3 L406.7,414 L406.9,414.7 L407.1,415.4 L407.4,416.1 L407.7,416.7 L407.9,417.4 L408.2,418 L408.5,418.6 L408.7,419.2 L409,419.8 L409.2,420.3 L409.4,421 L409.6,421.7 L409.8,422.4 L409.9,423.1 L410.1,423.8 L410.3,424.6 L410.6,425.4 L410.8,426.1 L411.1,426.8 L411.4,427.5 L411.7,428.2 L412,428.9 L412.3,429.6 L412.6,430.3 L412.9,430.9 L413.1,431.6 L413.4,432.2 L413.6,432.8 L413.9,433.4 L414.2,434 L414.4,434.7 L414.6,435.3 L414.9,436 L415.1,436.7 L415.4,437.4 L415.6,438.1 L415.9,438.8 L416.1,439.5 L416.4,440.2 L416.6,440.9 L416.9,441.6 L417.1,442.2 L417.4,442.9 L417.6,443.5 L417.9,444.2 L418.2,444.9 L418.4,445.6 L418.7,446.2 L419,446.9 L419.2,447.7 L419.5,448.4 L419.8,449.1 L420.1,449.8 L420.5,450.5 L420.8,451.1 L421.1,451.7 L421.4,452.3 L421.7,452.9 L422.1,453.4 L422.4,454.1 L422.9,454.8 L423.4,455.6 L423.6,456 L423.9,456.5 L424.2,457.1 L424.6,457.6 L424.9,458.2 L425.3,458.8 L425.6,459.4 L426,460 L426.4,460.6 L426.8,461.3 L427.2,461.9 L427.6,462.5 L428,463.1 L428.4,463.7 L428.9,464.3 L429.3,464.8 L429.8,465.3 L430.2,465.8 L430.7,466.4 L431.1,466.9 L431.6,467.4 L432.1,467.9 L432.6,468.4 L433.1,468.9 L433.6,469.4 L434.1,469.8 L434.6,470.3 L435.2,470.7 L435.7,471.2 L436.3,471.6 L436.8,472.1 L437.4,472.5 L437.9,472.9 L438.5,473.3 L439.1,473.7 L439.7,474.1 L440.3,474.5 L440.9,474.8 L441.5,475.2 L442.1,475.5 L442.8,475.9 L443.4,476.2 L444,476.5 L444.7,476.9 L445.4,477.2 L446,477.4 L446.6,477.7 L447.3,477.9 L447.9,478.2 L448.6,478.4 L449.2,478.6 L449.9,478.8 L450.6,479 L451.2,479.2 L451.9,479.4 L452.6,479.6 L453.4,479.8 L454.1,480 L454.9,480.1 L455.6,480.3 L456.4,480.4 L457,480.5 L457.6,480.7 L458.3,480.8 L458.9,480.9 L459.5,480.9 L460.2,481 L460.8,481.1 L461.5,481.2 L462.2,481.3 L462.9,481.3 L463.5,481.4 L464.2,481.5 L464.9,481.5 L465.6,481.6 L466.4,481.7 L467.1,481.7 L467.8,481.8 L468.5,481.9 L469.3,481.9 L470,482 L470.8,482 L471.4,482.1 L472.1,482.1 L472.8,482.2 L473.5,482.2 L474.2,482.3 L474.9,482.3 L475.7,482.4 L476.5,482.4 L477.2,482.5 L478,482.5 L478.8,482.6 L479.6,482.6 L480.3,482.7 L481.1,482.7 L481.9,482.8 L482.6,482.8 L483.3,482.8 L484,482.9 L484.7,482.9 L485.4,483 L486,483 L486.6,483 L487.1,483 L487.6,483.1 L488.1,483.1 L488.5,483.1 L488.8,483.1 L489,481.1 L488.6,481 L488.2,481 L487.7,481 L487.2,481 L486.7,480.9 L486.1,480.9 L485.5,480.9 L484.8,480.8 L484.2,480.8 L483.5,480.7 L482.7,480.7 L482,480.7 L481.2,480.6 L480.5,480.6 L479.7,480.5 L478.9,480.5 L478.1,480.4 L477.4,480.4 L476.6,480.3 L475.8,480.3 L475.1,480.3 L474.3,480.2 L473.6,480.2 L472.9,480.1 L472.2,480.1 L471.6,480 L471,480 L470.2,479.9 L469.5,479.8 L468.7,479.8 L468,479.7 L467.3,479.6 L466.5,479.6 L465.8,479.5 L465.1,479.5 L464.4,479.4 L463.7,479.3 L463.1,479.3 L462.4,479.2 L461.7,479.1 L461.1,479 L460.5,478.9 L459.8,478.9 L459.2,478.8 L458.6,478.7 L458,478.6 L457.4,478.5 L456.8,478.4 L456,478.2 L455.3,478.1 L454.6,477.9 L453.9,477.7 L453.2,477.6 L452.5,477.4 L451.8,477.2 L451.2,477 L450.5,476.8 L449.9,476.6 L449.3,476.4 L448.6,476.2 L448,476 L447.4,475.7 L446.8,475.5 L446.2,475.2 L445.6,475 L445,474.7 L444.3,474.4 L443.7,474 L443.1,473.7 L442.5,473.4 L442,473 L441.4,472.7 L440.8,472.3 L440.3,471.9 L439.7,471.6 L439.2,471.2 L438.6,470.8 L438.1,470.4 L437.5,470 L437,469.6 L436.5,469.1 L436,468.7 L435.5,468.3 L435,467.8 L434.5,467.4 L434.1,466.9 L433.6,466.4 L433.1,465.9 L432.7,465.5 L432.2,465 L431.8,464.5 L431.4,464 L430.9,463.5 L430.5,462.9 L430.1,462.4 L429.7,461.9 L429.3,461.3 L428.9,460.7 L428.6,460.1 L428.2,459.5 L427.8,458.9 L427.5,458.3 L427.1,457.7 L426.8,457.1 L426.4,456.5 L426.1,456 L425.8,455.4 L425.5,454.9 L425.2,454.4 L424.8,453.6 L424.4,452.9 L424,452.3 L423.7,451.8 L423.4,451.2 L423.1,450.7 L422.8,450.1 L422.5,449.5 L422.2,448.9 L422,448.2 L421.7,447.5 L421.4,446.8 L421.2,446.1 L420.9,445.4 L420.7,444.7 L420.4,444.1 L420.2,443.4 L419.9,442.7 L419.7,442 L419.5,441.4 L419.3,440.7 L419.1,440.1 L418.8,439.4 L418.6,438.7 L418.4,438 L418.1,437.3 L417.9,436.5 L417.7,435.8 L417.4,435.1 L417.2,434.3 L416.9,433.7 L416.7,433 L416.4,432.4 L416.2,431.8 L415.9,431.1 L415.7,430.5 L415.4,429.9 L415.2,429.3 L414.9,428.6 L414.6,427.8 L414.3,427.1 L414,426.5 L413.7,425.8 L413.5,425.1 L413.2,424.4 L413,423.8 L412.8,423.1 L412.6,422.4 L412.5,421.7 L412.3,421 L412.1,420.2 L411.8,419.5 L411.6,418.8 L411.3,418.1 L411.1,417.5 L410.8,416.9 L410.6,416.3 L410.3,415.6 L410.1,415 L409.9,414.4 L409.7,413.8 L409.5,413.2 L409.3,412.5 L409.1,411.8 L408.9,411.1 L408.7,410.4 L408.5,409.7 L408.3,409 L408,408.3 L407.8,407.6 L407.6,406.9 L407.3,406.2 L407.1,405.6 L406.8,404.9 L406.6,404.3 L406.4,403.7 L406.1,403.1 L405.7,402.2 L405.3,401.4 L404.9,400.7 L404.7,400.2 L404.5,399.8 Z" fill="#000"/>
<text x="476.5" y="292.6" font-size="20" font-weight="bold">D</text>
<text x="499.3" y="420.8" font-size="14.4">1.</text>
<text x="497.5" y="474.4" font-size="14.4">2.</text>
</svg>
</body></html>
